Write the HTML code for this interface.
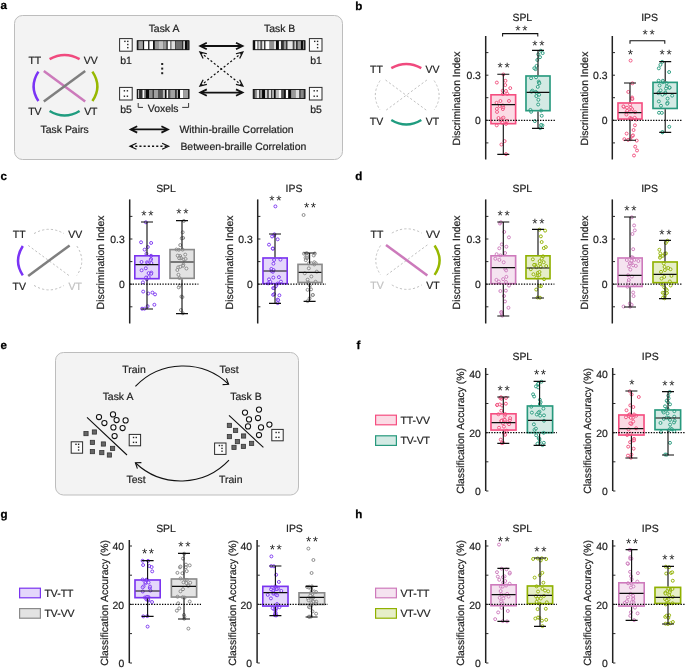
<!DOCTYPE html>
<html>
<head>
<meta charset="utf-8">
<title>Figure</title>
<style>html,body{margin:0;padding:0;background:#fff}svg{display:block}</style>
</head>
<body>
<svg width="685" height="668" viewBox="0 0 685 668" font-family="'Liberation Sans', Arial, sans-serif" text-rendering="geometricPrecision">
<rect width="685" height="668" fill="#fff"/>
<text x="0.50" y="9.00" font-size="11.6" text-anchor="start" font-weight="bold" fill="#000" stroke="#000" stroke-width="0.25">a</text>
<text x="355.30" y="9.60" font-size="11.6" text-anchor="start" font-weight="bold" fill="#000" stroke="#000" stroke-width="0.25">b</text>
<text x="0.50" y="180.00" font-size="11.6" text-anchor="start" font-weight="bold" fill="#000" stroke="#000" stroke-width="0.25">c</text>
<text x="355.30" y="180.00" font-size="11.6" text-anchor="start" font-weight="bold" fill="#000" stroke="#000" stroke-width="0.25">d</text>
<text x="0.50" y="349.00" font-size="11.6" text-anchor="start" font-weight="bold" fill="#000" stroke="#000" stroke-width="0.25">e</text>
<text x="356.60" y="349.00" font-size="11.6" text-anchor="start" font-weight="bold" fill="#000" stroke="#000" stroke-width="0.25">f</text>
<text x="0.50" y="518.00" font-size="11.6" text-anchor="start" font-weight="bold" fill="#000" stroke="#000" stroke-width="0.25">g</text>
<text x="355.30" y="518.00" font-size="11.6" text-anchor="start" font-weight="bold" fill="#000" stroke="#000" stroke-width="0.25">h</text>
<rect x="14.5" y="15.5" width="328" height="144" rx="8" ry="8" fill="#f3f3f3" stroke="#bdbdbd" stroke-width="1"/>
<path d="M43.80 71.00L85.20 101.60" stroke="#CC7ABB" stroke-width="2.5" fill="none" stroke-linecap="butt"/>
<path d="M85.20 71.00L43.80 101.60" stroke="#7F7F7F" stroke-width="2.5" fill="none" stroke-linecap="butt"/>
<path d="M49.60 59.20Q64.60 50.60 79.60 59.20" stroke="#F04A7E" stroke-width="2.5" fill="none" stroke-linecap="butt"/>
<path d="M49.60 111.00Q64.60 120.00 79.60 111.00" stroke="#1F9C7F" stroke-width="2.5" fill="none" stroke-linecap="butt"/>
<path d="M38.40 71.60Q28.80 86.60 38.40 101.00" stroke="#7A33F5" stroke-width="2.5" fill="none" stroke-linecap="butt"/>
<path d="M92.40 71.60Q102.40 86.60 92.40 101.00" stroke="#97B800" stroke-width="2.5" fill="none" stroke-linecap="butt"/>
<text x="34.80" y="63.84" font-size="10.45" text-anchor="middle" font-weight="normal" fill="#222" stroke="#222" stroke-width="0.2">TT</text>
<text x="90.80" y="63.84" font-size="10.45" text-anchor="middle" font-weight="normal" fill="#222" stroke="#222" stroke-width="0.2">VV</text>
<text x="34.80" y="115.44" font-size="10.45" text-anchor="middle" font-weight="normal" fill="#222" stroke="#222" stroke-width="0.2">TV</text>
<text x="90.80" y="115.44" font-size="10.45" text-anchor="middle" font-weight="normal" fill="#222" stroke="#222" stroke-width="0.2">VT</text>
<text x="64.60" y="132.94" font-size="10.45" text-anchor="middle" font-weight="normal" fill="#222" stroke="#222" stroke-width="0.2">Task Pairs</text>
<text x="164.00" y="32.34" font-size="10.45" text-anchor="middle" font-weight="normal" fill="#222" stroke="#222" stroke-width="0.2">Task A</text>
<text x="279.60" y="32.34" font-size="10.45" text-anchor="middle" font-weight="normal" fill="#222" stroke="#222" stroke-width="0.2">Task B</text>
<rect x="119.60" y="38.60" width="12.60" height="12.60" fill="#fbfbfb" stroke="#2a2a2a" stroke-width="1"/>
<rect x="124.19" y="40.67" width="1.4" height="1.4" fill="#222"/>
<rect x="127.09" y="40.67" width="1.4" height="1.4" fill="#222"/>
<rect x="127.09" y="43.82" width="1.4" height="1.4" fill="#222"/>
<rect x="127.09" y="46.97" width="1.4" height="1.4" fill="#222"/>
<rect x="119.60" y="87.40" width="12.60" height="12.60" fill="#fbfbfb" stroke="#2a2a2a" stroke-width="1"/>
<rect x="123.69" y="90.10" width="1.4" height="1.4" fill="#222"/>
<rect x="126.71" y="90.10" width="1.4" height="1.4" fill="#222"/>
<rect x="123.69" y="95.52" width="1.4" height="1.4" fill="#222"/>
<rect x="126.71" y="95.52" width="1.4" height="1.4" fill="#222"/>
<rect x="309.40" y="38.60" width="12.60" height="12.60" fill="#fbfbfb" stroke="#2a2a2a" stroke-width="1"/>
<rect x="313.99" y="40.67" width="1.4" height="1.4" fill="#222"/>
<rect x="316.89" y="40.67" width="1.4" height="1.4" fill="#222"/>
<rect x="316.89" y="43.82" width="1.4" height="1.4" fill="#222"/>
<rect x="316.89" y="46.97" width="1.4" height="1.4" fill="#222"/>
<rect x="309.40" y="87.40" width="12.60" height="12.60" fill="#fbfbfb" stroke="#2a2a2a" stroke-width="1"/>
<rect x="313.49" y="90.10" width="1.4" height="1.4" fill="#222"/>
<rect x="316.51" y="90.10" width="1.4" height="1.4" fill="#222"/>
<rect x="313.49" y="95.52" width="1.4" height="1.4" fill="#222"/>
<rect x="316.51" y="95.52" width="1.4" height="1.4" fill="#222"/>
<rect x="137.20" y="40.70" width="51.80" height="9.00" fill="#222"/>
<rect x="137.20" y="40.70" width="1.37" height="9.00" fill="#222222"/>
<rect x="138.42" y="40.70" width="4.64" height="9.00" fill="#a0a0a0"/>
<rect x="142.91" y="40.70" width="1.37" height="9.00" fill="#111111"/>
<rect x="144.13" y="40.70" width="4.23" height="9.00" fill="#ffffff"/>
<rect x="148.21" y="40.70" width="1.37" height="9.00" fill="#222222"/>
<rect x="149.44" y="40.70" width="3.82" height="9.00" fill="#ffffff"/>
<rect x="153.11" y="40.70" width="1.78" height="9.00" fill="#080808"/>
<rect x="154.74" y="40.70" width="3.82" height="9.00" fill="#999999"/>
<rect x="158.41" y="40.70" width="5.04" height="9.00" fill="#c0c0c0"/>
<rect x="163.30" y="40.70" width="3.41" height="9.00" fill="#999999"/>
<rect x="166.57" y="40.70" width="1.37" height="9.00" fill="#333333"/>
<rect x="167.79" y="40.70" width="2.60" height="9.00" fill="#fafafa"/>
<rect x="170.24" y="40.70" width="1.37" height="9.00" fill="#888888"/>
<rect x="171.46" y="40.70" width="3.82" height="9.00" fill="#dddddd"/>
<rect x="175.13" y="40.70" width="0.97" height="9.00" fill="#444444"/>
<rect x="175.95" y="40.70" width="6.27" height="9.00" fill="#6e6e6e"/>
<rect x="182.07" y="40.70" width="1.37" height="9.00" fill="#2a2a2a"/>
<rect x="183.29" y="40.70" width="1.78" height="9.00" fill="#dddddd"/>
<rect x="184.92" y="40.70" width="2.19" height="9.00" fill="#080808"/>
<rect x="186.96" y="40.70" width="2.19" height="9.00" fill="#444444"/>
<rect x="137.20" y="40.70" width="51.80" height="9.00" fill="none" stroke="#151515" stroke-width="0.9"/>
<rect x="137.20" y="89.50" width="51.80" height="9.00" fill="#222"/>
<rect x="137.20" y="89.50" width="0.97" height="9.00" fill="#222222"/>
<rect x="138.02" y="89.50" width="1.37" height="9.00" fill="#bbbbbb"/>
<rect x="139.24" y="89.50" width="3.41" height="9.00" fill="#303030"/>
<rect x="142.50" y="89.50" width="1.78" height="9.00" fill="#fafafa"/>
<rect x="144.13" y="89.50" width="1.78" height="9.00" fill="#999999"/>
<rect x="145.77" y="89.50" width="3.41" height="9.00" fill="#0a0a0a"/>
<rect x="149.03" y="89.50" width="3.82" height="9.00" fill="#909090"/>
<rect x="152.70" y="89.50" width="1.37" height="9.00" fill="#333333"/>
<rect x="153.92" y="89.50" width="4.23" height="9.00" fill="#a0a0a0"/>
<rect x="158.00" y="89.50" width="5.04" height="9.00" fill="#555555"/>
<rect x="162.90" y="89.50" width="2.19" height="9.00" fill="#bbbbbb"/>
<rect x="164.94" y="89.50" width="1.78" height="9.00" fill="#0a0a0a"/>
<rect x="166.57" y="89.50" width="1.78" height="9.00" fill="#fafafa"/>
<rect x="168.20" y="89.50" width="2.19" height="9.00" fill="#555555"/>
<rect x="170.24" y="89.50" width="5.04" height="9.00" fill="#a2a2a2"/>
<rect x="175.13" y="89.50" width="1.78" height="9.00" fill="#333333"/>
<rect x="176.76" y="89.50" width="1.37" height="9.00" fill="#aaaaaa"/>
<rect x="177.99" y="89.50" width="2.19" height="9.00" fill="#0a0a0a"/>
<rect x="180.03" y="89.50" width="3.41" height="9.00" fill="#ffffff"/>
<rect x="183.29" y="89.50" width="5.04" height="9.00" fill="#a0a0a0"/>
<rect x="188.18" y="89.50" width="0.97" height="9.00" fill="#333333"/>
<rect x="137.20" y="89.50" width="51.80" height="9.00" fill="none" stroke="#151515" stroke-width="0.9"/>
<rect x="253.20" y="40.70" width="51.80" height="9.00" fill="#222"/>
<rect x="253.20" y="40.70" width="2.19" height="9.00" fill="#0a0a0a"/>
<rect x="255.24" y="40.70" width="2.19" height="9.00" fill="#ffffff"/>
<rect x="257.28" y="40.70" width="1.78" height="9.00" fill="#999999"/>
<rect x="258.91" y="40.70" width="1.78" height="9.00" fill="#dddddd"/>
<rect x="260.54" y="40.70" width="1.78" height="9.00" fill="#555555"/>
<rect x="262.17" y="40.70" width="2.19" height="9.00" fill="#eeeeee"/>
<rect x="264.21" y="40.70" width="1.37" height="9.00" fill="#333333"/>
<rect x="265.44" y="40.70" width="4.23" height="9.00" fill="#ffffff"/>
<rect x="269.51" y="40.70" width="4.64" height="9.00" fill="#909090"/>
<rect x="274.00" y="40.70" width="2.19" height="9.00" fill="#dddddd"/>
<rect x="276.04" y="40.70" width="3.01" height="9.00" fill="#080808"/>
<rect x="278.90" y="40.70" width="2.19" height="9.00" fill="#fafafa"/>
<rect x="280.94" y="40.70" width="3.01" height="9.00" fill="#333333"/>
<rect x="283.79" y="40.70" width="2.60" height="9.00" fill="#999999"/>
<rect x="286.24" y="40.70" width="1.37" height="9.00" fill="#333333"/>
<rect x="287.46" y="40.70" width="5.45" height="9.00" fill="#e6e6e6"/>
<rect x="292.76" y="40.70" width="1.78" height="9.00" fill="#444444"/>
<rect x="294.40" y="40.70" width="1.78" height="9.00" fill="#cccccc"/>
<rect x="296.03" y="40.70" width="1.78" height="9.00" fill="#333333"/>
<rect x="297.66" y="40.70" width="3.41" height="9.00" fill="#999999"/>
<rect x="300.92" y="40.70" width="2.19" height="9.00" fill="#0a0a0a"/>
<rect x="302.96" y="40.70" width="1.37" height="9.00" fill="#888888"/>
<rect x="304.18" y="40.70" width="0.97" height="9.00" fill="#222222"/>
<rect x="253.20" y="40.70" width="51.80" height="9.00" fill="none" stroke="#151515" stroke-width="0.9"/>
<rect x="253.20" y="89.50" width="51.80" height="9.00" fill="#222"/>
<rect x="253.20" y="89.50" width="1.78" height="9.00" fill="#333333"/>
<rect x="254.83" y="89.50" width="2.19" height="9.00" fill="#888888"/>
<rect x="256.87" y="89.50" width="2.60" height="9.00" fill="#e8e8e8"/>
<rect x="259.32" y="89.50" width="0.97" height="9.00" fill="#333333"/>
<rect x="260.13" y="89.50" width="2.19" height="9.00" fill="#999999"/>
<rect x="262.17" y="89.50" width="3.01" height="9.00" fill="#080808"/>
<rect x="265.03" y="89.50" width="2.60" height="9.00" fill="#d0d0d0"/>
<rect x="267.48" y="89.50" width="1.37" height="9.00" fill="#333333"/>
<rect x="268.70" y="89.50" width="2.60" height="9.00" fill="#dddddd"/>
<rect x="271.15" y="89.50" width="0.97" height="9.00" fill="#444444"/>
<rect x="271.96" y="89.50" width="2.19" height="9.00" fill="#aaaaaa"/>
<rect x="274.00" y="89.50" width="1.78" height="9.00" fill="#0a0a0a"/>
<rect x="275.63" y="89.50" width="3.01" height="9.00" fill="#bbbbbb"/>
<rect x="278.49" y="89.50" width="3.01" height="9.00" fill="#fafafa"/>
<rect x="281.34" y="89.50" width="3.01" height="9.00" fill="#555555"/>
<rect x="284.20" y="89.50" width="1.78" height="9.00" fill="#0a0a0a"/>
<rect x="285.83" y="89.50" width="2.60" height="9.00" fill="#ffffff"/>
<rect x="288.28" y="89.50" width="3.01" height="9.00" fill="#0a0a0a"/>
<rect x="291.13" y="89.50" width="4.64" height="9.00" fill="#999999"/>
<rect x="295.62" y="89.50" width="3.82" height="9.00" fill="#dddddd"/>
<rect x="299.29" y="89.50" width="1.78" height="9.00" fill="#555555"/>
<rect x="300.92" y="89.50" width="3.01" height="9.00" fill="#888888"/>
<rect x="303.78" y="89.50" width="1.37" height="9.00" fill="#333333"/>
<rect x="253.20" y="89.50" width="51.80" height="9.00" fill="none" stroke="#151515" stroke-width="0.9"/>
<text x="126.00" y="64.34" font-size="10.45" text-anchor="middle" font-weight="normal" fill="#222" stroke="#222" stroke-width="0.2">b1</text>
<text x="126.00" y="112.94" font-size="10.45" text-anchor="middle" font-weight="normal" fill="#222" stroke="#222" stroke-width="0.2">b5</text>
<text x="316.00" y="64.34" font-size="10.45" text-anchor="middle" font-weight="normal" fill="#222" stroke="#222" stroke-width="0.2">b1</text>
<text x="316.00" y="112.94" font-size="10.45" text-anchor="middle" font-weight="normal" fill="#222" stroke="#222" stroke-width="0.2">b5</text>
<rect x="161.2" y="63.00" width="2" height="2" fill="#222"/>
<rect x="161.2" y="67.60" width="2" height="2" fill="#222"/>
<rect x="161.2" y="72.20" width="2" height="2" fill="#222"/>
<text x="163.20" y="112.04" font-size="10.45" text-anchor="middle" font-weight="normal" fill="#222" stroke="#222" stroke-width="0.2">Voxels</text>
<path d="M138.2 103V107.4H143M188.6 103V107.4H182.2" stroke="#222" stroke-width="0.9" fill="none"/>
<path d="M201.30 46.00L241.50 46.00" stroke="#111" stroke-width="1.8" fill="none"/>
<path d="M236.00 49.20L242.50 46.00L236.00 42.80M206.80 49.20L200.30 46.00L206.80 42.80" stroke="#111" stroke-width="1.8" fill="none" stroke-linejoin="miter"/>
<path d="M201.30 92.60L241.50 92.60" stroke="#111" stroke-width="1.8" fill="none"/>
<path d="M236.00 95.80L242.50 92.60L236.00 89.40M206.80 95.80L200.30 92.60L206.80 89.40" stroke="#111" stroke-width="1.8" fill="none" stroke-linejoin="miter"/>
<path d="M200.70 52.67L242.10 85.53" stroke="#111" stroke-width="1.2" fill="none" stroke-dasharray="2.1 2.1"/>
<path d="M235.93 84.46L242.89 86.15L239.66 79.76M203.14 58.44L199.91 52.05L206.87 53.74" stroke="#111" stroke-width="1.25" fill="none" stroke-linejoin="miter"/>
<path d="M200.70 85.53L242.10 52.67" stroke="#111" stroke-width="1.2" fill="none" stroke-dasharray="2.1 2.1"/>
<path d="M239.66 58.44L242.89 52.05L235.93 53.74M206.87 84.46L199.91 86.15L203.14 79.76" stroke="#111" stroke-width="1.25" fill="none" stroke-linejoin="miter"/>
<path d="M131.70 129.40L166.90 129.40" stroke="#111" stroke-width="1.8" fill="none"/>
<path d="M161.40 132.60L167.90 129.40L161.40 126.20M137.20 132.60L130.70 129.40L137.20 126.20" stroke="#111" stroke-width="1.8" fill="none" stroke-linejoin="miter"/>
<path d="M131.00 146.20L167.60 146.20" stroke="#111" stroke-width="1.4" fill="none" stroke-dasharray="2.1 2.1"/>
<path d="M162.10 149.20L168.60 146.20L162.10 143.20M136.50 149.20L130.00 146.20L136.50 143.20" stroke="#111" stroke-width="1.25" fill="none" stroke-linejoin="miter"/>
<text x="179.40" y="133.34" font-size="10.45" text-anchor="start" font-weight="normal" fill="#222" stroke="#222" stroke-width="0.2">Within-braille Correlation</text>
<text x="180.40" y="150.04" font-size="10.45" text-anchor="start" font-weight="normal" fill="#222" stroke="#222" stroke-width="0.2">Between-braille Correlation</text>
<path d="M380.10 80.60Q370.50 95.60 380.10 110.00" stroke="#bdbdbd" stroke-width="0.95" stroke-dasharray="2.2 2.2" fill="none"/>
<path d="M434.10 80.60Q444.10 95.60 434.10 110.00" stroke="#bdbdbd" stroke-width="0.95" stroke-dasharray="2.2 2.2" fill="none"/>
<path d="M385.50 80.00L426.90 110.60" stroke="#bdbdbd" stroke-width="0.95" stroke-dasharray="2.2 2.2" fill="none"/>
<path d="M426.90 80.00L385.50 110.60" stroke="#bdbdbd" stroke-width="0.95" stroke-dasharray="2.2 2.2" fill="none"/>
<path d="M391.30 68.20Q406.30 59.60 421.30 68.20" stroke="#F04A7E" stroke-width="2.5" fill="none" stroke-linecap="butt"/>
<path d="M391.30 120.00Q406.30 129.00 421.30 120.00" stroke="#1F9C7F" stroke-width="2.5" fill="none" stroke-linecap="butt"/>
<text x="376.50" y="72.84" font-size="10.45" text-anchor="middle" font-weight="normal" fill="#222" stroke="#222" stroke-width="0.2">TT</text>
<text x="432.50" y="72.84" font-size="10.45" text-anchor="middle" font-weight="normal" fill="#222" stroke="#222" stroke-width="0.2">VV</text>
<text x="376.50" y="125.34" font-size="10.45" text-anchor="middle" font-weight="normal" fill="#222" stroke="#222" stroke-width="0.2">TV</text>
<text x="432.50" y="125.34" font-size="10.45" text-anchor="middle" font-weight="normal" fill="#222" stroke="#222" stroke-width="0.2">VT</text>
<text x="522.30" y="21.04" font-size="10.45" text-anchor="middle" font-weight="normal" fill="#222" stroke="#222" stroke-width="0.2">SPL</text>
<text transform="translate(460.10,98.60) rotate(-90)" font-size="10.45" text-anchor="middle" fill="#222" stroke="#222" stroke-width="0.2">Discrimination Index</text>
<text x="480.90" y="78.94" font-size="10.45" text-anchor="end" font-weight="normal" fill="#222" stroke="#222" stroke-width="0.2">0.3</text>
<text x="480.90" y="124.04" font-size="10.45" text-anchor="end" font-weight="normal" fill="#222" stroke="#222" stroke-width="0.2">0</text>
<rect x="490.20" y="94.00" width="26.20" height="30.45" fill="#FBDBE5"/>
<circle cx="505.96" cy="90.98" r="1.48" fill="#fff" fill-opacity="0.5" stroke="#F0527F" stroke-width="0.95"/>
<circle cx="502.86" cy="109.09" r="1.48" fill="#fff" fill-opacity="0.5" stroke="#F0527F" stroke-width="0.95"/>
<circle cx="498.48" cy="118.02" r="1.48" fill="#fff" fill-opacity="0.5" stroke="#F0527F" stroke-width="0.95"/>
<circle cx="502.71" cy="90.75" r="1.48" fill="#fff" fill-opacity="0.5" stroke="#F0527F" stroke-width="0.95"/>
<circle cx="502.82" cy="94.06" r="1.48" fill="#fff" fill-opacity="0.5" stroke="#F0527F" stroke-width="0.95"/>
<circle cx="508.99" cy="100.97" r="1.48" fill="#fff" fill-opacity="0.5" stroke="#F0527F" stroke-width="0.95"/>
<circle cx="496.72" cy="125.37" r="1.48" fill="#fff" fill-opacity="0.5" stroke="#F0527F" stroke-width="0.95"/>
<circle cx="502.22" cy="122.60" r="1.48" fill="#fff" fill-opacity="0.5" stroke="#F0527F" stroke-width="0.95"/>
<circle cx="496.85" cy="82.56" r="1.48" fill="#fff" fill-opacity="0.5" stroke="#F0527F" stroke-width="0.95"/>
<circle cx="503.26" cy="107.33" r="1.48" fill="#fff" fill-opacity="0.5" stroke="#F0527F" stroke-width="0.95"/>
<circle cx="500.42" cy="101.03" r="1.48" fill="#fff" fill-opacity="0.5" stroke="#F0527F" stroke-width="0.95"/>
<circle cx="496.56" cy="102.82" r="1.48" fill="#fff" fill-opacity="0.5" stroke="#F0527F" stroke-width="0.95"/>
<circle cx="504.61" cy="141.12" r="1.48" fill="#fff" fill-opacity="0.5" stroke="#F0527F" stroke-width="0.95"/>
<circle cx="507.30" cy="93.85" r="1.48" fill="#fff" fill-opacity="0.5" stroke="#F0527F" stroke-width="0.95"/>
<circle cx="505.46" cy="80.79" r="1.48" fill="#fff" fill-opacity="0.5" stroke="#F0527F" stroke-width="0.95"/>
<circle cx="502.61" cy="122.51" r="1.48" fill="#fff" fill-opacity="0.5" stroke="#F0527F" stroke-width="0.95"/>
<circle cx="501.42" cy="144.53" r="1.48" fill="#fff" fill-opacity="0.5" stroke="#F0527F" stroke-width="0.95"/>
<circle cx="507.09" cy="120.87" r="1.48" fill="#fff" fill-opacity="0.5" stroke="#F0527F" stroke-width="0.95"/>
<circle cx="497.03" cy="111.94" r="1.48" fill="#fff" fill-opacity="0.5" stroke="#F0527F" stroke-width="0.95"/>
<circle cx="502.54" cy="118.28" r="1.48" fill="#fff" fill-opacity="0.5" stroke="#F0527F" stroke-width="0.95"/>
<circle cx="505.25" cy="85.07" r="1.48" fill="#fff" fill-opacity="0.5" stroke="#F0527F" stroke-width="0.95"/>
<circle cx="502.76" cy="105.41" r="1.48" fill="#fff" fill-opacity="0.5" stroke="#F0527F" stroke-width="0.95"/>
<circle cx="503.48" cy="117.70" r="1.48" fill="#fff" fill-opacity="0.5" stroke="#F0527F" stroke-width="0.95"/>
<circle cx="496.87" cy="108.91" r="1.48" fill="#fff" fill-opacity="0.5" stroke="#F0527F" stroke-width="0.95"/>
<circle cx="510.24" cy="88.13" r="1.48" fill="#fff" fill-opacity="0.5" stroke="#F0527F" stroke-width="0.95"/>
<circle cx="499.76" cy="105.99" r="1.48" fill="#fff" fill-opacity="0.5" stroke="#F0527F" stroke-width="0.95"/>
<circle cx="506.04" cy="123.90" r="1.48" fill="#fff" fill-opacity="0.5" stroke="#F0527F" stroke-width="0.95"/>
<circle cx="500.59" cy="120.20" r="1.48" fill="#fff" fill-opacity="0.5" stroke="#F0527F" stroke-width="0.95"/>
<circle cx="503.38" cy="74.50" r="1.48" fill="#fff" fill-opacity="0.5" stroke="#F0527F" stroke-width="0.95"/>
<circle cx="506.01" cy="154.10" r="1.48" fill="#fff" fill-opacity="0.5" stroke="#F0527F" stroke-width="0.95"/>
<rect x="491.00" y="94.80" width="24.60" height="28.85" fill="none" stroke="#F54E80" stroke-width="1.6"/>
<path d="M503.30 74.20V94.00M503.30 124.45V154.40M497.30 74.20h12M497.30 154.40h12M491.60 104.60H515.00" stroke="#0d0d0d" stroke-width="1.1" fill="none"/>
<text x="504.50" y="72.00" font-size="13.5" text-anchor="middle" letter-spacing="1.65" fill="#1a1a1a">**</text>
<rect x="525.20" y="75.20" width="25.60" height="36.25" fill="#D3EAE4"/>
<circle cx="535.74" cy="91.84" r="1.48" fill="#fff" fill-opacity="0.5" stroke="#2A9C80" stroke-width="0.95"/>
<circle cx="530.41" cy="109.90" r="1.48" fill="#fff" fill-opacity="0.5" stroke="#2A9C80" stroke-width="0.95"/>
<circle cx="542.44" cy="125.36" r="1.48" fill="#fff" fill-opacity="0.5" stroke="#2A9C80" stroke-width="0.95"/>
<circle cx="538.16" cy="104.53" r="1.48" fill="#fff" fill-opacity="0.5" stroke="#2A9C80" stroke-width="0.95"/>
<circle cx="532.35" cy="90.65" r="1.48" fill="#fff" fill-opacity="0.5" stroke="#2A9C80" stroke-width="0.95"/>
<circle cx="534.87" cy="121.11" r="1.48" fill="#fff" fill-opacity="0.5" stroke="#2A9C80" stroke-width="0.95"/>
<circle cx="536.68" cy="92.78" r="1.48" fill="#fff" fill-opacity="0.5" stroke="#2A9C80" stroke-width="0.95"/>
<circle cx="539.12" cy="94.72" r="1.48" fill="#fff" fill-opacity="0.5" stroke="#2A9C80" stroke-width="0.95"/>
<circle cx="531.51" cy="91.81" r="1.48" fill="#fff" fill-opacity="0.5" stroke="#2A9C80" stroke-width="0.95"/>
<circle cx="538.75" cy="81.62" r="1.48" fill="#fff" fill-opacity="0.5" stroke="#2A9C80" stroke-width="0.95"/>
<circle cx="541.09" cy="124.98" r="1.48" fill="#fff" fill-opacity="0.5" stroke="#2A9C80" stroke-width="0.95"/>
<circle cx="541.72" cy="115.78" r="1.48" fill="#fff" fill-opacity="0.5" stroke="#2A9C80" stroke-width="0.95"/>
<circle cx="531.05" cy="78.22" r="1.48" fill="#fff" fill-opacity="0.5" stroke="#2A9C80" stroke-width="0.95"/>
<circle cx="535.51" cy="69.14" r="1.48" fill="#fff" fill-opacity="0.5" stroke="#2A9C80" stroke-width="0.95"/>
<circle cx="536.55" cy="65.90" r="1.48" fill="#fff" fill-opacity="0.5" stroke="#2A9C80" stroke-width="0.95"/>
<circle cx="538.24" cy="54.36" r="1.48" fill="#fff" fill-opacity="0.5" stroke="#2A9C80" stroke-width="0.95"/>
<circle cx="540.04" cy="57.17" r="1.48" fill="#fff" fill-opacity="0.5" stroke="#2A9C80" stroke-width="0.95"/>
<circle cx="537.77" cy="86.87" r="1.48" fill="#fff" fill-opacity="0.5" stroke="#2A9C80" stroke-width="0.95"/>
<circle cx="537.30" cy="59.99" r="1.48" fill="#fff" fill-opacity="0.5" stroke="#2A9C80" stroke-width="0.95"/>
<circle cx="542.70" cy="53.10" r="1.48" fill="#fff" fill-opacity="0.5" stroke="#2A9C80" stroke-width="0.95"/>
<circle cx="538.95" cy="82.78" r="1.48" fill="#fff" fill-opacity="0.5" stroke="#2A9C80" stroke-width="0.95"/>
<circle cx="531.11" cy="111.80" r="1.48" fill="#fff" fill-opacity="0.5" stroke="#2A9C80" stroke-width="0.95"/>
<circle cx="534.31" cy="68.23" r="1.48" fill="#fff" fill-opacity="0.5" stroke="#2A9C80" stroke-width="0.95"/>
<circle cx="538.39" cy="99.78" r="1.48" fill="#fff" fill-opacity="0.5" stroke="#2A9C80" stroke-width="0.95"/>
<circle cx="541.09" cy="110.57" r="1.48" fill="#fff" fill-opacity="0.5" stroke="#2A9C80" stroke-width="0.95"/>
<circle cx="539.37" cy="83.29" r="1.48" fill="#fff" fill-opacity="0.5" stroke="#2A9C80" stroke-width="0.95"/>
<circle cx="536.31" cy="96.07" r="1.48" fill="#fff" fill-opacity="0.5" stroke="#2A9C80" stroke-width="0.95"/>
<circle cx="536.07" cy="77.33" r="1.48" fill="#fff" fill-opacity="0.5" stroke="#2A9C80" stroke-width="0.95"/>
<circle cx="540.81" cy="50.70" r="1.48" fill="#fff" fill-opacity="0.5" stroke="#2A9C80" stroke-width="0.95"/>
<circle cx="540.25" cy="128.10" r="1.48" fill="#fff" fill-opacity="0.5" stroke="#2A9C80" stroke-width="0.95"/>
<rect x="526.00" y="76.00" width="24.00" height="34.65" fill="none" stroke="#27997D" stroke-width="1.6"/>
<path d="M538.00 50.40V75.20M538.00 111.45V128.40M532.00 50.40h12M532.00 128.40h12M526.60 92.40H549.40" stroke="#0d0d0d" stroke-width="1.1" fill="none"/>
<text x="539.20" y="49.60" font-size="13.5" text-anchor="middle" letter-spacing="1.65" fill="#1a1a1a">**</text>
<line x1="486.00" y1="120.30" x2="555.00" y2="120.30" stroke="#000" stroke-width="1.3" stroke-dasharray="1.35 1.35"/>
<path d="M486.00 52.60h2.4M486.00 75.20h2.4M486.00 97.70h2.4M486.00 120.30h2.4M486.00 142.90h2.4" stroke="#1f1f1f" stroke-width="0.95" fill="none"/>
<path d="M485.70 36.00V159.50" stroke="#222" stroke-width="1.5" fill="none"/>
<path d="M502.60 36.60V33.60H537.80V36.60" stroke="#111" stroke-width="1.05" fill="none"/>
<text x="522.20" y="35.00" font-size="13.5" text-anchor="middle" letter-spacing="1.65" fill="#1a1a1a">**</text>
<text x="649.60" y="21.04" font-size="10.45" text-anchor="middle" font-weight="normal" fill="#222" stroke="#222" stroke-width="0.2">IPS</text>
<text transform="translate(588.10,98.60) rotate(-90)" font-size="10.45" text-anchor="middle" fill="#222" stroke="#222" stroke-width="0.2">Discrimination Index</text>
<text x="607.60" y="78.94" font-size="10.45" text-anchor="end" font-weight="normal" fill="#222" stroke="#222" stroke-width="0.2">0.3</text>
<text x="607.60" y="124.04" font-size="10.45" text-anchor="end" font-weight="normal" fill="#222" stroke="#222" stroke-width="0.2">0</text>
<rect x="617.20" y="102.20" width="25.60" height="17.65" fill="#FBDBE5"/>
<circle cx="624.36" cy="139.14" r="1.48" fill="#fff" fill-opacity="0.5" stroke="#F0527F" stroke-width="0.95"/>
<circle cx="632.32" cy="99.04" r="1.48" fill="#fff" fill-opacity="0.5" stroke="#F0527F" stroke-width="0.95"/>
<circle cx="630.95" cy="107.64" r="1.48" fill="#fff" fill-opacity="0.5" stroke="#F0527F" stroke-width="0.95"/>
<circle cx="626.28" cy="112.46" r="1.48" fill="#fff" fill-opacity="0.5" stroke="#F0527F" stroke-width="0.95"/>
<circle cx="632.17" cy="109.15" r="1.48" fill="#fff" fill-opacity="0.5" stroke="#F0527F" stroke-width="0.95"/>
<circle cx="630.38" cy="139.17" r="1.48" fill="#fff" fill-opacity="0.5" stroke="#F0527F" stroke-width="0.95"/>
<circle cx="623.78" cy="106.93" r="1.48" fill="#fff" fill-opacity="0.5" stroke="#F0527F" stroke-width="0.95"/>
<circle cx="628.28" cy="91.93" r="1.48" fill="#fff" fill-opacity="0.5" stroke="#F0527F" stroke-width="0.95"/>
<circle cx="630.22" cy="117.94" r="1.48" fill="#fff" fill-opacity="0.5" stroke="#F0527F" stroke-width="0.95"/>
<circle cx="623.36" cy="106.37" r="1.48" fill="#fff" fill-opacity="0.5" stroke="#F0527F" stroke-width="0.95"/>
<circle cx="630.09" cy="104.61" r="1.48" fill="#fff" fill-opacity="0.5" stroke="#F0527F" stroke-width="0.95"/>
<circle cx="626.63" cy="133.58" r="1.48" fill="#fff" fill-opacity="0.5" stroke="#F0527F" stroke-width="0.95"/>
<circle cx="632.30" cy="136.06" r="1.48" fill="#fff" fill-opacity="0.5" stroke="#F0527F" stroke-width="0.95"/>
<circle cx="632.99" cy="135.37" r="1.48" fill="#fff" fill-opacity="0.5" stroke="#F0527F" stroke-width="0.95"/>
<circle cx="636.15" cy="119.51" r="1.48" fill="#fff" fill-opacity="0.5" stroke="#F0527F" stroke-width="0.95"/>
<circle cx="632.08" cy="97.48" r="1.48" fill="#fff" fill-opacity="0.5" stroke="#F0527F" stroke-width="0.95"/>
<circle cx="629.91" cy="111.56" r="1.48" fill="#fff" fill-opacity="0.5" stroke="#F0527F" stroke-width="0.95"/>
<circle cx="633.57" cy="130.04" r="1.48" fill="#fff" fill-opacity="0.5" stroke="#F0527F" stroke-width="0.95"/>
<circle cx="634.69" cy="117.78" r="1.48" fill="#fff" fill-opacity="0.5" stroke="#F0527F" stroke-width="0.95"/>
<circle cx="635.11" cy="112.22" r="1.48" fill="#fff" fill-opacity="0.5" stroke="#F0527F" stroke-width="0.95"/>
<circle cx="627.16" cy="110.79" r="1.48" fill="#fff" fill-opacity="0.5" stroke="#F0527F" stroke-width="0.95"/>
<circle cx="626.40" cy="114.55" r="1.48" fill="#fff" fill-opacity="0.5" stroke="#F0527F" stroke-width="0.95"/>
<circle cx="634.92" cy="125.31" r="1.48" fill="#fff" fill-opacity="0.5" stroke="#F0527F" stroke-width="0.95"/>
<circle cx="631.98" cy="119.10" r="1.48" fill="#fff" fill-opacity="0.5" stroke="#F0527F" stroke-width="0.95"/>
<circle cx="631.40" cy="111.34" r="1.48" fill="#fff" fill-opacity="0.5" stroke="#F0527F" stroke-width="0.95"/>
<circle cx="626.98" cy="107.70" r="1.48" fill="#fff" fill-opacity="0.5" stroke="#F0527F" stroke-width="0.95"/>
<circle cx="631.12" cy="118.69" r="1.48" fill="#fff" fill-opacity="0.5" stroke="#F0527F" stroke-width="0.95"/>
<circle cx="632.21" cy="98.75" r="1.48" fill="#fff" fill-opacity="0.5" stroke="#F0527F" stroke-width="0.95"/>
<circle cx="632.45" cy="83.30" r="1.48" fill="#fff" fill-opacity="0.5" stroke="#F0527F" stroke-width="0.95"/>
<circle cx="628.15" cy="139.90" r="1.48" fill="#fff" fill-opacity="0.5" stroke="#F0527F" stroke-width="0.95"/>
<circle cx="630.60" cy="60.60" r="1.48" fill="#fff" fill-opacity="0.5" stroke="#F0527F" stroke-width="0.95"/>
<circle cx="636.70" cy="140.60" r="1.48" fill="#fff" fill-opacity="0.5" stroke="#F0527F" stroke-width="0.95"/>
<circle cx="635.20" cy="146.70" r="1.48" fill="#fff" fill-opacity="0.5" stroke="#F0527F" stroke-width="0.95"/>
<circle cx="637.00" cy="150.50" r="1.48" fill="#fff" fill-opacity="0.5" stroke="#F0527F" stroke-width="0.95"/>
<circle cx="634.00" cy="155.50" r="1.48" fill="#fff" fill-opacity="0.5" stroke="#F0527F" stroke-width="0.95"/>
<rect x="618.00" y="103.00" width="24.00" height="16.05" fill="none" stroke="#F54E80" stroke-width="1.6"/>
<path d="M630.00 83.00V102.20M630.00 119.85V140.20M624.00 83.00h12M624.00 140.20h12M618.60 112.60H641.40" stroke="#0d0d0d" stroke-width="1.1" fill="none"/>
<text x="631.20" y="58.60" font-size="13.5" text-anchor="middle" letter-spacing="1.65" fill="#1a1a1a">*</text>
<rect x="652.20" y="81.60" width="25.80" height="27.65" fill="#D3EAE4"/>
<circle cx="666.62" cy="83.22" r="1.48" fill="#fff" fill-opacity="0.5" stroke="#2A9C80" stroke-width="0.95"/>
<circle cx="669.46" cy="87.87" r="1.48" fill="#fff" fill-opacity="0.5" stroke="#2A9C80" stroke-width="0.95"/>
<circle cx="669.11" cy="72.05" r="1.48" fill="#fff" fill-opacity="0.5" stroke="#2A9C80" stroke-width="0.95"/>
<circle cx="669.55" cy="87.42" r="1.48" fill="#fff" fill-opacity="0.5" stroke="#2A9C80" stroke-width="0.95"/>
<circle cx="658.85" cy="101.42" r="1.48" fill="#fff" fill-opacity="0.5" stroke="#2A9C80" stroke-width="0.95"/>
<circle cx="666.82" cy="86.35" r="1.48" fill="#fff" fill-opacity="0.5" stroke="#2A9C80" stroke-width="0.95"/>
<circle cx="658.61" cy="80.69" r="1.48" fill="#fff" fill-opacity="0.5" stroke="#2A9C80" stroke-width="0.95"/>
<circle cx="662.78" cy="82.18" r="1.48" fill="#fff" fill-opacity="0.5" stroke="#2A9C80" stroke-width="0.95"/>
<circle cx="661.85" cy="112.89" r="1.48" fill="#fff" fill-opacity="0.5" stroke="#2A9C80" stroke-width="0.95"/>
<circle cx="659.20" cy="92.26" r="1.48" fill="#fff" fill-opacity="0.5" stroke="#2A9C80" stroke-width="0.95"/>
<circle cx="658.99" cy="112.76" r="1.48" fill="#fff" fill-opacity="0.5" stroke="#2A9C80" stroke-width="0.95"/>
<circle cx="667.60" cy="98.61" r="1.48" fill="#fff" fill-opacity="0.5" stroke="#2A9C80" stroke-width="0.95"/>
<circle cx="658.81" cy="68.34" r="1.48" fill="#fff" fill-opacity="0.5" stroke="#2A9C80" stroke-width="0.95"/>
<circle cx="667.57" cy="102.78" r="1.48" fill="#fff" fill-opacity="0.5" stroke="#2A9C80" stroke-width="0.95"/>
<circle cx="669.24" cy="126.74" r="1.48" fill="#fff" fill-opacity="0.5" stroke="#2A9C80" stroke-width="0.95"/>
<circle cx="662.41" cy="94.67" r="1.48" fill="#fff" fill-opacity="0.5" stroke="#2A9C80" stroke-width="0.95"/>
<circle cx="660.54" cy="90.35" r="1.48" fill="#fff" fill-opacity="0.5" stroke="#2A9C80" stroke-width="0.95"/>
<circle cx="660.99" cy="105.79" r="1.48" fill="#fff" fill-opacity="0.5" stroke="#2A9C80" stroke-width="0.95"/>
<circle cx="665.33" cy="92.47" r="1.48" fill="#fff" fill-opacity="0.5" stroke="#2A9C80" stroke-width="0.95"/>
<circle cx="662.82" cy="80.79" r="1.48" fill="#fff" fill-opacity="0.5" stroke="#2A9C80" stroke-width="0.95"/>
<circle cx="658.31" cy="93.21" r="1.48" fill="#fff" fill-opacity="0.5" stroke="#2A9C80" stroke-width="0.95"/>
<circle cx="659.56" cy="85.49" r="1.48" fill="#fff" fill-opacity="0.5" stroke="#2A9C80" stroke-width="0.95"/>
<circle cx="660.42" cy="64.82" r="1.48" fill="#fff" fill-opacity="0.5" stroke="#2A9C80" stroke-width="0.95"/>
<circle cx="672.15" cy="95.65" r="1.48" fill="#fff" fill-opacity="0.5" stroke="#2A9C80" stroke-width="0.95"/>
<circle cx="662.50" cy="132.27" r="1.48" fill="#fff" fill-opacity="0.5" stroke="#2A9C80" stroke-width="0.95"/>
<circle cx="666.01" cy="88.53" r="1.48" fill="#fff" fill-opacity="0.5" stroke="#2A9C80" stroke-width="0.95"/>
<circle cx="667.22" cy="103.73" r="1.48" fill="#fff" fill-opacity="0.5" stroke="#2A9C80" stroke-width="0.95"/>
<circle cx="665.43" cy="93.30" r="1.48" fill="#fff" fill-opacity="0.5" stroke="#2A9C80" stroke-width="0.95"/>
<circle cx="662.23" cy="61.90" r="1.48" fill="#fff" fill-opacity="0.5" stroke="#2A9C80" stroke-width="0.95"/>
<circle cx="662.41" cy="132.10" r="1.48" fill="#fff" fill-opacity="0.5" stroke="#2A9C80" stroke-width="0.95"/>
<rect x="653.00" y="82.40" width="24.20" height="26.05" fill="none" stroke="#27997D" stroke-width="1.6"/>
<path d="M665.20 61.60V81.60M665.20 109.25V132.40M659.20 61.60h12M659.20 132.40h12M653.60 93.40H676.60" stroke="#0d0d0d" stroke-width="1.1" fill="none"/>
<text x="666.40" y="59.20" font-size="13.5" text-anchor="middle" letter-spacing="1.65" fill="#1a1a1a">**</text>
<line x1="612.60" y1="120.30" x2="681.60" y2="120.30" stroke="#000" stroke-width="1.3" stroke-dasharray="1.35 1.35"/>
<path d="M612.60 52.60h2.4M612.60 75.20h2.4M612.60 97.70h2.4M612.60 120.30h2.4M612.60 142.90h2.4" stroke="#1f1f1f" stroke-width="0.95" fill="none"/>
<path d="M612.30 36.00V159.50" stroke="#222" stroke-width="1.5" fill="none"/>
<path d="M630.00 43.80V40.80H664.80V43.80" stroke="#111" stroke-width="1.05" fill="none"/>
<text x="649.40" y="39.20" font-size="13.5" text-anchor="middle" letter-spacing="1.65" fill="#1a1a1a">**</text>
<path d="M34.00 233.60Q49.00 225.00 64.00 233.60" stroke="#bdbdbd" stroke-width="0.95" stroke-dasharray="2.2 2.2" fill="none"/>
<path d="M34.00 285.40Q49.00 294.40 64.00 285.40" stroke="#bdbdbd" stroke-width="0.95" stroke-dasharray="2.2 2.2" fill="none"/>
<path d="M76.80 246.00Q86.80 261.00 76.80 275.40" stroke="#bdbdbd" stroke-width="0.95" stroke-dasharray="2.2 2.2" fill="none"/>
<path d="M28.20 245.40L69.60 276.00" stroke="#bdbdbd" stroke-width="0.95" stroke-dasharray="2.2 2.2" fill="none"/>
<path d="M69.60 245.40L28.20 276.00" stroke="#7F7F7F" stroke-width="2.5" fill="none" stroke-linecap="butt"/>
<path d="M22.80 246.00Q13.20 261.00 22.80 275.40" stroke="#7A33F5" stroke-width="2.5" fill="none" stroke-linecap="butt"/>
<text x="19.20" y="238.24" font-size="10.45" text-anchor="middle" font-weight="normal" fill="#222" stroke="#222" stroke-width="0.2">TT</text>
<text x="75.20" y="238.24" font-size="10.45" text-anchor="middle" font-weight="normal" fill="#222" stroke="#222" stroke-width="0.2">VV</text>
<text x="19.20" y="289.84" font-size="10.45" text-anchor="middle" font-weight="normal" fill="#222" stroke="#222" stroke-width="0.2">TV</text>
<text x="75.20" y="289.84" font-size="10.45" text-anchor="middle" font-weight="normal" fill="#c2c2c2" stroke="#c2c2c2" stroke-width="0.2">VT</text>
<text x="166.00" y="191.94" font-size="10.45" text-anchor="middle" font-weight="normal" fill="#222" stroke="#222" stroke-width="0.2">SPL</text>
<text transform="translate(104.10,262.40) rotate(-90)" font-size="10.45" text-anchor="middle" fill="#222" stroke="#222" stroke-width="0.2">Discrimination Index</text>
<text x="124.80" y="243.34" font-size="10.45" text-anchor="end" font-weight="normal" fill="#222" stroke="#222" stroke-width="0.2">0.3</text>
<text x="124.80" y="288.14" font-size="10.45" text-anchor="end" font-weight="normal" fill="#222" stroke="#222" stroke-width="0.2">0</text>
<rect x="134.00" y="255.00" width="25.80" height="24.45" fill="#E4D7FB"/>
<circle cx="145.81" cy="268.31" r="1.48" fill="#fff" fill-opacity="0.5" stroke="#7C38F0" stroke-width="0.95"/>
<circle cx="141.58" cy="270.30" r="1.48" fill="#fff" fill-opacity="0.5" stroke="#7C38F0" stroke-width="0.95"/>
<circle cx="144.62" cy="249.64" r="1.48" fill="#fff" fill-opacity="0.5" stroke="#7C38F0" stroke-width="0.95"/>
<circle cx="146.74" cy="279.34" r="1.48" fill="#fff" fill-opacity="0.5" stroke="#7C38F0" stroke-width="0.95"/>
<circle cx="148.28" cy="293.53" r="1.48" fill="#fff" fill-opacity="0.5" stroke="#7C38F0" stroke-width="0.95"/>
<circle cx="151.13" cy="242.95" r="1.48" fill="#fff" fill-opacity="0.5" stroke="#7C38F0" stroke-width="0.95"/>
<circle cx="148.61" cy="273.12" r="1.48" fill="#fff" fill-opacity="0.5" stroke="#7C38F0" stroke-width="0.95"/>
<circle cx="147.81" cy="247.02" r="1.48" fill="#fff" fill-opacity="0.5" stroke="#7C38F0" stroke-width="0.95"/>
<circle cx="151.09" cy="255.76" r="1.48" fill="#fff" fill-opacity="0.5" stroke="#7C38F0" stroke-width="0.95"/>
<circle cx="151.32" cy="272.58" r="1.48" fill="#fff" fill-opacity="0.5" stroke="#7C38F0" stroke-width="0.95"/>
<circle cx="146.05" cy="277.52" r="1.48" fill="#fff" fill-opacity="0.5" stroke="#7C38F0" stroke-width="0.95"/>
<circle cx="152.45" cy="292.59" r="1.48" fill="#fff" fill-opacity="0.5" stroke="#7C38F0" stroke-width="0.95"/>
<circle cx="142.93" cy="282.33" r="1.48" fill="#fff" fill-opacity="0.5" stroke="#7C38F0" stroke-width="0.95"/>
<circle cx="146.44" cy="253.86" r="1.48" fill="#fff" fill-opacity="0.5" stroke="#7C38F0" stroke-width="0.95"/>
<circle cx="147.06" cy="262.36" r="1.48" fill="#fff" fill-opacity="0.5" stroke="#7C38F0" stroke-width="0.95"/>
<circle cx="147.76" cy="263.58" r="1.48" fill="#fff" fill-opacity="0.5" stroke="#7C38F0" stroke-width="0.95"/>
<circle cx="148.72" cy="277.11" r="1.48" fill="#fff" fill-opacity="0.5" stroke="#7C38F0" stroke-width="0.95"/>
<circle cx="154.36" cy="304.76" r="1.48" fill="#fff" fill-opacity="0.5" stroke="#7C38F0" stroke-width="0.95"/>
<circle cx="151.01" cy="258.99" r="1.48" fill="#fff" fill-opacity="0.5" stroke="#7C38F0" stroke-width="0.95"/>
<circle cx="147.61" cy="306.18" r="1.48" fill="#fff" fill-opacity="0.5" stroke="#7C38F0" stroke-width="0.95"/>
<circle cx="150.57" cy="260.16" r="1.48" fill="#fff" fill-opacity="0.5" stroke="#7C38F0" stroke-width="0.95"/>
<circle cx="141.53" cy="261.97" r="1.48" fill="#fff" fill-opacity="0.5" stroke="#7C38F0" stroke-width="0.95"/>
<circle cx="142.08" cy="308.70" r="1.48" fill="#fff" fill-opacity="0.5" stroke="#7C38F0" stroke-width="0.95"/>
<circle cx="143.17" cy="291.58" r="1.48" fill="#fff" fill-opacity="0.5" stroke="#7C38F0" stroke-width="0.95"/>
<circle cx="151.21" cy="273.80" r="1.48" fill="#fff" fill-opacity="0.5" stroke="#7C38F0" stroke-width="0.95"/>
<circle cx="141.05" cy="242.28" r="1.48" fill="#fff" fill-opacity="0.5" stroke="#7C38F0" stroke-width="0.95"/>
<circle cx="151.35" cy="263.09" r="1.48" fill="#fff" fill-opacity="0.5" stroke="#7C38F0" stroke-width="0.95"/>
<circle cx="155.04" cy="294.39" r="1.48" fill="#fff" fill-opacity="0.5" stroke="#7C38F0" stroke-width="0.95"/>
<circle cx="145.86" cy="222.30" r="1.48" fill="#fff" fill-opacity="0.5" stroke="#7C38F0" stroke-width="0.95"/>
<circle cx="144.46" cy="308.70" r="1.48" fill="#fff" fill-opacity="0.5" stroke="#7C38F0" stroke-width="0.95"/>
<rect x="134.80" y="255.80" width="24.20" height="22.85" fill="none" stroke="#7A33F0" stroke-width="1.6"/>
<path d="M147.00 222.00V255.00M147.00 279.45V309.00M141.00 222.00h12M141.00 309.00h12M135.40 264.60H158.40" stroke="#0d0d0d" stroke-width="1.1" fill="none"/>
<text x="148.20" y="219.60" font-size="13.5" text-anchor="middle" letter-spacing="1.65" fill="#1a1a1a">**</text>
<rect x="169.20" y="248.80" width="25.80" height="30.35" fill="#E3E3E3"/>
<circle cx="178.84" cy="249.75" r="1.48" fill="#fff" fill-opacity="0.5" stroke="#878787" stroke-width="0.95"/>
<circle cx="178.25" cy="267.33" r="1.48" fill="#fff" fill-opacity="0.5" stroke="#878787" stroke-width="0.95"/>
<circle cx="180.23" cy="245.07" r="1.48" fill="#fff" fill-opacity="0.5" stroke="#878787" stroke-width="0.95"/>
<circle cx="180.89" cy="310.04" r="1.48" fill="#fff" fill-opacity="0.5" stroke="#878787" stroke-width="0.95"/>
<circle cx="183.33" cy="264.58" r="1.48" fill="#fff" fill-opacity="0.5" stroke="#878787" stroke-width="0.95"/>
<circle cx="183.09" cy="265.77" r="1.48" fill="#fff" fill-opacity="0.5" stroke="#878787" stroke-width="0.95"/>
<circle cx="181.39" cy="296.62" r="1.48" fill="#fff" fill-opacity="0.5" stroke="#878787" stroke-width="0.95"/>
<circle cx="180.10" cy="256.01" r="1.48" fill="#fff" fill-opacity="0.5" stroke="#878787" stroke-width="0.95"/>
<circle cx="182.42" cy="297.10" r="1.48" fill="#fff" fill-opacity="0.5" stroke="#878787" stroke-width="0.95"/>
<circle cx="182.71" cy="232.31" r="1.48" fill="#fff" fill-opacity="0.5" stroke="#878787" stroke-width="0.95"/>
<circle cx="183.21" cy="237.97" r="1.48" fill="#fff" fill-opacity="0.5" stroke="#878787" stroke-width="0.95"/>
<circle cx="181.71" cy="238.29" r="1.48" fill="#fff" fill-opacity="0.5" stroke="#878787" stroke-width="0.95"/>
<circle cx="183.99" cy="259.50" r="1.48" fill="#fff" fill-opacity="0.5" stroke="#878787" stroke-width="0.95"/>
<circle cx="176.46" cy="249.47" r="1.48" fill="#fff" fill-opacity="0.5" stroke="#878787" stroke-width="0.95"/>
<circle cx="179.52" cy="278.04" r="1.48" fill="#fff" fill-opacity="0.5" stroke="#878787" stroke-width="0.95"/>
<circle cx="180.30" cy="266.79" r="1.48" fill="#fff" fill-opacity="0.5" stroke="#878787" stroke-width="0.95"/>
<circle cx="180.80" cy="258.29" r="1.48" fill="#fff" fill-opacity="0.5" stroke="#878787" stroke-width="0.95"/>
<circle cx="180.88" cy="257.92" r="1.48" fill="#fff" fill-opacity="0.5" stroke="#878787" stroke-width="0.95"/>
<circle cx="182.61" cy="249.62" r="1.48" fill="#fff" fill-opacity="0.5" stroke="#878787" stroke-width="0.95"/>
<circle cx="179.17" cy="258.21" r="1.48" fill="#fff" fill-opacity="0.5" stroke="#878787" stroke-width="0.95"/>
<circle cx="178.70" cy="287.37" r="1.48" fill="#fff" fill-opacity="0.5" stroke="#878787" stroke-width="0.95"/>
<circle cx="177.34" cy="269.99" r="1.48" fill="#fff" fill-opacity="0.5" stroke="#878787" stroke-width="0.95"/>
<circle cx="185.60" cy="258.93" r="1.48" fill="#fff" fill-opacity="0.5" stroke="#878787" stroke-width="0.95"/>
<circle cx="178.45" cy="274.77" r="1.48" fill="#fff" fill-opacity="0.5" stroke="#878787" stroke-width="0.95"/>
<circle cx="186.42" cy="268.53" r="1.48" fill="#fff" fill-opacity="0.5" stroke="#878787" stroke-width="0.95"/>
<circle cx="177.68" cy="255.63" r="1.48" fill="#fff" fill-opacity="0.5" stroke="#878787" stroke-width="0.95"/>
<circle cx="185.22" cy="254.59" r="1.48" fill="#fff" fill-opacity="0.5" stroke="#878787" stroke-width="0.95"/>
<circle cx="179.84" cy="285.47" r="1.48" fill="#fff" fill-opacity="0.5" stroke="#878787" stroke-width="0.95"/>
<circle cx="183.84" cy="220.90" r="1.48" fill="#fff" fill-opacity="0.5" stroke="#878787" stroke-width="0.95"/>
<circle cx="182.85" cy="313.30" r="1.48" fill="#fff" fill-opacity="0.5" stroke="#878787" stroke-width="0.95"/>
<rect x="170.00" y="249.60" width="24.20" height="28.75" fill="none" stroke="#8A8A8A" stroke-width="1.6"/>
<path d="M182.00 220.60V248.80M182.00 279.15V313.60M176.00 220.60h12M176.00 313.60h12M170.60 262.00H193.60" stroke="#0d0d0d" stroke-width="1.1" fill="none"/>
<text x="183.20" y="218.20" font-size="13.5" text-anchor="middle" letter-spacing="1.65" fill="#1a1a1a">**</text>
<line x1="130.00" y1="284.20" x2="198.40" y2="284.20" stroke="#000" stroke-width="1.3" stroke-dasharray="1.35 1.35"/>
<path d="M130.00 216.40h2.4M130.00 239.00h2.4M130.00 261.60h2.4M130.00 284.20h2.4M130.00 306.80h2.4" stroke="#1f1f1f" stroke-width="0.95" fill="none"/>
<path d="M129.70 199.40V323.50" stroke="#222" stroke-width="1.5" fill="none"/>
<text x="294.00" y="191.94" font-size="10.45" text-anchor="middle" font-weight="normal" fill="#222" stroke="#222" stroke-width="0.2">IPS</text>
<text transform="translate(232.50,262.40) rotate(-90)" font-size="10.45" text-anchor="middle" fill="#222" stroke="#222" stroke-width="0.2">Discrimination Index</text>
<text x="252.80" y="243.34" font-size="10.45" text-anchor="end" font-weight="normal" fill="#222" stroke="#222" stroke-width="0.2">0.3</text>
<text x="252.80" y="288.14" font-size="10.45" text-anchor="end" font-weight="normal" fill="#222" stroke="#222" stroke-width="0.2">0</text>
<rect x="262.20" y="257.20" width="25.80" height="27.25" fill="#E4D7FB"/>
<circle cx="274.07" cy="260.01" r="1.48" fill="#fff" fill-opacity="0.5" stroke="#7C38F0" stroke-width="0.95"/>
<circle cx="274.12" cy="235.54" r="1.48" fill="#fff" fill-opacity="0.5" stroke="#7C38F0" stroke-width="0.95"/>
<circle cx="277.67" cy="299.62" r="1.48" fill="#fff" fill-opacity="0.5" stroke="#7C38F0" stroke-width="0.95"/>
<circle cx="272.82" cy="271.82" r="1.48" fill="#fff" fill-opacity="0.5" stroke="#7C38F0" stroke-width="0.95"/>
<circle cx="272.07" cy="236.46" r="1.48" fill="#fff" fill-opacity="0.5" stroke="#7C38F0" stroke-width="0.95"/>
<circle cx="278.21" cy="300.16" r="1.48" fill="#fff" fill-opacity="0.5" stroke="#7C38F0" stroke-width="0.95"/>
<circle cx="273.19" cy="288.12" r="1.48" fill="#fff" fill-opacity="0.5" stroke="#7C38F0" stroke-width="0.95"/>
<circle cx="278.92" cy="277.14" r="1.48" fill="#fff" fill-opacity="0.5" stroke="#7C38F0" stroke-width="0.95"/>
<circle cx="275.95" cy="286.09" r="1.48" fill="#fff" fill-opacity="0.5" stroke="#7C38F0" stroke-width="0.95"/>
<circle cx="271.57" cy="270.99" r="1.48" fill="#fff" fill-opacity="0.5" stroke="#7C38F0" stroke-width="0.95"/>
<circle cx="280.43" cy="259.63" r="1.48" fill="#fff" fill-opacity="0.5" stroke="#7C38F0" stroke-width="0.95"/>
<circle cx="273.09" cy="294.83" r="1.48" fill="#fff" fill-opacity="0.5" stroke="#7C38F0" stroke-width="0.95"/>
<circle cx="279.38" cy="295.30" r="1.48" fill="#fff" fill-opacity="0.5" stroke="#7C38F0" stroke-width="0.95"/>
<circle cx="274.23" cy="294.08" r="1.48" fill="#fff" fill-opacity="0.5" stroke="#7C38F0" stroke-width="0.95"/>
<circle cx="271.33" cy="268.95" r="1.48" fill="#fff" fill-opacity="0.5" stroke="#7C38F0" stroke-width="0.95"/>
<circle cx="269.00" cy="279.34" r="1.48" fill="#fff" fill-opacity="0.5" stroke="#7C38F0" stroke-width="0.95"/>
<circle cx="272.87" cy="248.53" r="1.48" fill="#fff" fill-opacity="0.5" stroke="#7C38F0" stroke-width="0.95"/>
<circle cx="273.54" cy="270.04" r="1.48" fill="#fff" fill-opacity="0.5" stroke="#7C38F0" stroke-width="0.95"/>
<circle cx="274.22" cy="288.16" r="1.48" fill="#fff" fill-opacity="0.5" stroke="#7C38F0" stroke-width="0.95"/>
<circle cx="272.82" cy="248.68" r="1.48" fill="#fff" fill-opacity="0.5" stroke="#7C38F0" stroke-width="0.95"/>
<circle cx="273.31" cy="277.55" r="1.48" fill="#fff" fill-opacity="0.5" stroke="#7C38F0" stroke-width="0.95"/>
<circle cx="270.32" cy="281.84" r="1.48" fill="#fff" fill-opacity="0.5" stroke="#7C38F0" stroke-width="0.95"/>
<circle cx="277.67" cy="239.31" r="1.48" fill="#fff" fill-opacity="0.5" stroke="#7C38F0" stroke-width="0.95"/>
<circle cx="273.42" cy="263.67" r="1.48" fill="#fff" fill-opacity="0.5" stroke="#7C38F0" stroke-width="0.95"/>
<circle cx="268.99" cy="244.65" r="1.48" fill="#fff" fill-opacity="0.5" stroke="#7C38F0" stroke-width="0.95"/>
<circle cx="280.94" cy="281.61" r="1.48" fill="#fff" fill-opacity="0.5" stroke="#7C38F0" stroke-width="0.95"/>
<circle cx="268.12" cy="283.36" r="1.48" fill="#fff" fill-opacity="0.5" stroke="#7C38F0" stroke-width="0.95"/>
<circle cx="277.80" cy="283.52" r="1.48" fill="#fff" fill-opacity="0.5" stroke="#7C38F0" stroke-width="0.95"/>
<circle cx="274.46" cy="234.30" r="1.48" fill="#fff" fill-opacity="0.5" stroke="#7C38F0" stroke-width="0.95"/>
<circle cx="277.66" cy="303.10" r="1.48" fill="#fff" fill-opacity="0.5" stroke="#7C38F0" stroke-width="0.95"/>
<circle cx="275.40" cy="206.40" r="1.48" fill="#fff" fill-opacity="0.5" stroke="#7C38F0" stroke-width="0.95"/>
<rect x="263.00" y="258.00" width="24.20" height="25.65" fill="none" stroke="#7A33F0" stroke-width="1.6"/>
<path d="M275.00 234.00V257.20M275.00 284.45V303.40M269.00 234.00h12M269.00 303.40h12M263.60 271.00H286.60" stroke="#0d0d0d" stroke-width="1.1" fill="none"/>
<text x="276.20" y="205.20" font-size="13.5" text-anchor="middle" letter-spacing="1.65" fill="#1a1a1a">**</text>
<rect x="297.20" y="263.60" width="25.60" height="19.65" fill="#E3E3E3"/>
<circle cx="307.61" cy="279.67" r="1.48" fill="#fff" fill-opacity="0.5" stroke="#878787" stroke-width="0.95"/>
<circle cx="305.54" cy="257.71" r="1.48" fill="#fff" fill-opacity="0.5" stroke="#878787" stroke-width="0.95"/>
<circle cx="308.02" cy="282.50" r="1.48" fill="#fff" fill-opacity="0.5" stroke="#878787" stroke-width="0.95"/>
<circle cx="306.05" cy="253.47" r="1.48" fill="#fff" fill-opacity="0.5" stroke="#878787" stroke-width="0.95"/>
<circle cx="307.58" cy="289.83" r="1.48" fill="#fff" fill-opacity="0.5" stroke="#878787" stroke-width="0.95"/>
<circle cx="308.93" cy="263.41" r="1.48" fill="#fff" fill-opacity="0.5" stroke="#878787" stroke-width="0.95"/>
<circle cx="303.93" cy="253.63" r="1.48" fill="#fff" fill-opacity="0.5" stroke="#878787" stroke-width="0.95"/>
<circle cx="305.75" cy="260.17" r="1.48" fill="#fff" fill-opacity="0.5" stroke="#878787" stroke-width="0.95"/>
<circle cx="307.10" cy="258.20" r="1.48" fill="#fff" fill-opacity="0.5" stroke="#878787" stroke-width="0.95"/>
<circle cx="309.85" cy="285.47" r="1.48" fill="#fff" fill-opacity="0.5" stroke="#878787" stroke-width="0.95"/>
<circle cx="316.76" cy="271.64" r="1.48" fill="#fff" fill-opacity="0.5" stroke="#878787" stroke-width="0.95"/>
<circle cx="308.80" cy="268.35" r="1.48" fill="#fff" fill-opacity="0.5" stroke="#878787" stroke-width="0.95"/>
<circle cx="307.09" cy="257.46" r="1.48" fill="#fff" fill-opacity="0.5" stroke="#878787" stroke-width="0.95"/>
<circle cx="309.59" cy="298.33" r="1.48" fill="#fff" fill-opacity="0.5" stroke="#878787" stroke-width="0.95"/>
<circle cx="307.02" cy="255.70" r="1.48" fill="#fff" fill-opacity="0.5" stroke="#878787" stroke-width="0.95"/>
<circle cx="313.76" cy="255.45" r="1.48" fill="#fff" fill-opacity="0.5" stroke="#878787" stroke-width="0.95"/>
<circle cx="314.88" cy="253.54" r="1.48" fill="#fff" fill-opacity="0.5" stroke="#878787" stroke-width="0.95"/>
<circle cx="308.73" cy="283.06" r="1.48" fill="#fff" fill-opacity="0.5" stroke="#878787" stroke-width="0.95"/>
<circle cx="312.60" cy="295.12" r="1.48" fill="#fff" fill-opacity="0.5" stroke="#878787" stroke-width="0.95"/>
<circle cx="304.76" cy="273.31" r="1.48" fill="#fff" fill-opacity="0.5" stroke="#878787" stroke-width="0.95"/>
<circle cx="314.29" cy="262.26" r="1.48" fill="#fff" fill-opacity="0.5" stroke="#878787" stroke-width="0.95"/>
<circle cx="311.06" cy="289.36" r="1.48" fill="#fff" fill-opacity="0.5" stroke="#878787" stroke-width="0.95"/>
<circle cx="312.93" cy="294.91" r="1.48" fill="#fff" fill-opacity="0.5" stroke="#878787" stroke-width="0.95"/>
<circle cx="311.36" cy="276.47" r="1.48" fill="#fff" fill-opacity="0.5" stroke="#878787" stroke-width="0.95"/>
<circle cx="315.59" cy="281.73" r="1.48" fill="#fff" fill-opacity="0.5" stroke="#878787" stroke-width="0.95"/>
<circle cx="315.75" cy="263.29" r="1.48" fill="#fff" fill-opacity="0.5" stroke="#878787" stroke-width="0.95"/>
<circle cx="314.28" cy="264.48" r="1.48" fill="#fff" fill-opacity="0.5" stroke="#878787" stroke-width="0.95"/>
<circle cx="311.17" cy="263.27" r="1.48" fill="#fff" fill-opacity="0.5" stroke="#878787" stroke-width="0.95"/>
<circle cx="306.96" cy="253.30" r="1.48" fill="#fff" fill-opacity="0.5" stroke="#878787" stroke-width="0.95"/>
<circle cx="307.60" cy="301.10" r="1.48" fill="#fff" fill-opacity="0.5" stroke="#878787" stroke-width="0.95"/>
<circle cx="303.60" cy="215.00" r="1.48" fill="#fff" fill-opacity="0.5" stroke="#878787" stroke-width="0.95"/>
<rect x="298.00" y="264.40" width="24.00" height="18.05" fill="none" stroke="#8A8A8A" stroke-width="1.6"/>
<path d="M309.60 253.00V263.60M309.60 283.25V301.40M303.60 253.00h12M303.60 301.40h12M298.60 272.40H321.40" stroke="#0d0d0d" stroke-width="1.1" fill="none"/>
<text x="310.80" y="212.20" font-size="13.5" text-anchor="middle" letter-spacing="1.65" fill="#1a1a1a">**</text>
<line x1="258.00" y1="284.20" x2="326.00" y2="284.20" stroke="#000" stroke-width="1.3" stroke-dasharray="1.35 1.35"/>
<path d="M258.00 216.40h2.4M258.00 239.00h2.4M258.00 261.60h2.4M258.00 284.20h2.4M258.00 306.80h2.4" stroke="#1f1f1f" stroke-width="0.95" fill="none"/>
<path d="M257.70 199.40V323.50" stroke="#222" stroke-width="1.5" fill="none"/>
<path d="M391.80 233.10Q406.80 224.50 421.80 233.10" stroke="#bdbdbd" stroke-width="0.95" stroke-dasharray="2.2 2.2" fill="none"/>
<path d="M391.80 284.90Q406.80 293.90 421.80 284.90" stroke="#bdbdbd" stroke-width="0.95" stroke-dasharray="2.2 2.2" fill="none"/>
<path d="M380.60 245.50Q371.00 260.50 380.60 274.90" stroke="#bdbdbd" stroke-width="0.95" stroke-dasharray="2.2 2.2" fill="none"/>
<path d="M427.40 244.90L386.00 275.50" stroke="#bdbdbd" stroke-width="0.95" stroke-dasharray="2.2 2.2" fill="none"/>
<path d="M386.00 244.90L427.40 275.50" stroke="#CC7ABB" stroke-width="2.5" fill="none" stroke-linecap="butt"/>
<path d="M434.60 245.50Q444.60 260.50 434.60 274.90" stroke="#97B800" stroke-width="2.5" fill="none" stroke-linecap="butt"/>
<text x="377.00" y="237.74" font-size="10.45" text-anchor="middle" font-weight="normal" fill="#222" stroke="#222" stroke-width="0.2">TT</text>
<text x="433.00" y="237.74" font-size="10.45" text-anchor="middle" font-weight="normal" fill="#222" stroke="#222" stroke-width="0.2">VV</text>
<text x="377.00" y="289.34" font-size="10.45" text-anchor="middle" font-weight="normal" fill="#c2c2c2" stroke="#c2c2c2" stroke-width="0.2">TV</text>
<text x="433.00" y="289.34" font-size="10.45" text-anchor="middle" font-weight="normal" fill="#222" stroke="#222" stroke-width="0.2">VT</text>
<text x="522.30" y="191.94" font-size="10.45" text-anchor="middle" font-weight="normal" fill="#222" stroke="#222" stroke-width="0.2">SPL</text>
<text transform="translate(460.10,262.40) rotate(-90)" font-size="10.45" text-anchor="middle" fill="#222" stroke="#222" stroke-width="0.2">Discrimination Index</text>
<text x="480.90" y="243.34" font-size="10.45" text-anchor="end" font-weight="normal" fill="#222" stroke="#222" stroke-width="0.2">0.3</text>
<text x="480.90" y="288.14" font-size="10.45" text-anchor="end" font-weight="normal" fill="#222" stroke="#222" stroke-width="0.2">0</text>
<rect x="490.20" y="255.00" width="26.20" height="29.45" fill="#F5E3F0"/>
<circle cx="506.36" cy="276.85" r="1.48" fill="#fff" fill-opacity="0.5" stroke="#CE7CBD" stroke-width="0.95"/>
<circle cx="508.45" cy="307.79" r="1.48" fill="#fff" fill-opacity="0.5" stroke="#CE7CBD" stroke-width="0.95"/>
<circle cx="508.94" cy="237.37" r="1.48" fill="#fff" fill-opacity="0.5" stroke="#CE7CBD" stroke-width="0.95"/>
<circle cx="498.84" cy="281.53" r="1.48" fill="#fff" fill-opacity="0.5" stroke="#CE7CBD" stroke-width="0.95"/>
<circle cx="503.68" cy="262.26" r="1.48" fill="#fff" fill-opacity="0.5" stroke="#CE7CBD" stroke-width="0.95"/>
<circle cx="500.40" cy="255.39" r="1.48" fill="#fff" fill-opacity="0.5" stroke="#CE7CBD" stroke-width="0.95"/>
<circle cx="505.98" cy="281.99" r="1.48" fill="#fff" fill-opacity="0.5" stroke="#CE7CBD" stroke-width="0.95"/>
<circle cx="499.28" cy="248.31" r="1.48" fill="#fff" fill-opacity="0.5" stroke="#CE7CBD" stroke-width="0.95"/>
<circle cx="495.31" cy="258.73" r="1.48" fill="#fff" fill-opacity="0.5" stroke="#CE7CBD" stroke-width="0.95"/>
<circle cx="500.38" cy="291.06" r="1.48" fill="#fff" fill-opacity="0.5" stroke="#CE7CBD" stroke-width="0.95"/>
<circle cx="501.27" cy="311.97" r="1.48" fill="#fff" fill-opacity="0.5" stroke="#CE7CBD" stroke-width="0.95"/>
<circle cx="504.98" cy="301.46" r="1.48" fill="#fff" fill-opacity="0.5" stroke="#CE7CBD" stroke-width="0.95"/>
<circle cx="505.11" cy="253.05" r="1.48" fill="#fff" fill-opacity="0.5" stroke="#CE7CBD" stroke-width="0.95"/>
<circle cx="501.37" cy="312.65" r="1.48" fill="#fff" fill-opacity="0.5" stroke="#CE7CBD" stroke-width="0.95"/>
<circle cx="499.39" cy="259.89" r="1.48" fill="#fff" fill-opacity="0.5" stroke="#CE7CBD" stroke-width="0.95"/>
<circle cx="504.23" cy="231.94" r="1.48" fill="#fff" fill-opacity="0.5" stroke="#CE7CBD" stroke-width="0.95"/>
<circle cx="501.79" cy="244.37" r="1.48" fill="#fff" fill-opacity="0.5" stroke="#CE7CBD" stroke-width="0.95"/>
<circle cx="503.13" cy="279.11" r="1.48" fill="#fff" fill-opacity="0.5" stroke="#CE7CBD" stroke-width="0.95"/>
<circle cx="505.27" cy="269.17" r="1.48" fill="#fff" fill-opacity="0.5" stroke="#CE7CBD" stroke-width="0.95"/>
<circle cx="496.62" cy="254.18" r="1.48" fill="#fff" fill-opacity="0.5" stroke="#CE7CBD" stroke-width="0.95"/>
<circle cx="496.42" cy="279.88" r="1.48" fill="#fff" fill-opacity="0.5" stroke="#CE7CBD" stroke-width="0.95"/>
<circle cx="504.00" cy="296.00" r="1.48" fill="#fff" fill-opacity="0.5" stroke="#CE7CBD" stroke-width="0.95"/>
<circle cx="499.91" cy="223.54" r="1.48" fill="#fff" fill-opacity="0.5" stroke="#CE7CBD" stroke-width="0.95"/>
<circle cx="505.86" cy="290.65" r="1.48" fill="#fff" fill-opacity="0.5" stroke="#CE7CBD" stroke-width="0.95"/>
<circle cx="501.85" cy="314.17" r="1.48" fill="#fff" fill-opacity="0.5" stroke="#CE7CBD" stroke-width="0.95"/>
<circle cx="506.11" cy="270.45" r="1.48" fill="#fff" fill-opacity="0.5" stroke="#CE7CBD" stroke-width="0.95"/>
<circle cx="506.39" cy="246.70" r="1.48" fill="#fff" fill-opacity="0.5" stroke="#CE7CBD" stroke-width="0.95"/>
<circle cx="509.00" cy="285.61" r="1.48" fill="#fff" fill-opacity="0.5" stroke="#CE7CBD" stroke-width="0.95"/>
<circle cx="500.85" cy="222.30" r="1.48" fill="#fff" fill-opacity="0.5" stroke="#CE7CBD" stroke-width="0.95"/>
<circle cx="502.34" cy="315.70" r="1.48" fill="#fff" fill-opacity="0.5" stroke="#CE7CBD" stroke-width="0.95"/>
<rect x="491.00" y="255.80" width="24.60" height="27.85" fill="none" stroke="#CE7ABC" stroke-width="1.6"/>
<path d="M503.30 222.00V255.00M503.30 284.45V316.00M497.30 222.00h12M497.30 316.00h12M491.60 267.60H515.00" stroke="#0d0d0d" stroke-width="1.1" fill="none"/>
<text x="504.50" y="220.20" font-size="13.5" text-anchor="middle" letter-spacing="1.65" fill="#1a1a1a">**</text>
<rect x="525.20" y="255.00" width="25.60" height="24.45" fill="#E6EEC8"/>
<circle cx="536.51" cy="277.45" r="1.48" fill="#fff" fill-opacity="0.5" stroke="#92B205" stroke-width="0.95"/>
<circle cx="536.22" cy="289.56" r="1.48" fill="#fff" fill-opacity="0.5" stroke="#92B205" stroke-width="0.95"/>
<circle cx="532.86" cy="259.34" r="1.48" fill="#fff" fill-opacity="0.5" stroke="#92B205" stroke-width="0.95"/>
<circle cx="545.81" cy="247.04" r="1.48" fill="#fff" fill-opacity="0.5" stroke="#92B205" stroke-width="0.95"/>
<circle cx="545.11" cy="230.64" r="1.48" fill="#fff" fill-opacity="0.5" stroke="#92B205" stroke-width="0.95"/>
<circle cx="535.36" cy="264.92" r="1.48" fill="#fff" fill-opacity="0.5" stroke="#92B205" stroke-width="0.95"/>
<circle cx="537.61" cy="275.20" r="1.48" fill="#fff" fill-opacity="0.5" stroke="#92B205" stroke-width="0.95"/>
<circle cx="543.02" cy="256.36" r="1.48" fill="#fff" fill-opacity="0.5" stroke="#92B205" stroke-width="0.95"/>
<circle cx="541.67" cy="242.04" r="1.48" fill="#fff" fill-opacity="0.5" stroke="#92B205" stroke-width="0.95"/>
<circle cx="543.81" cy="248.13" r="1.48" fill="#fff" fill-opacity="0.5" stroke="#92B205" stroke-width="0.95"/>
<circle cx="533.43" cy="274.27" r="1.48" fill="#fff" fill-opacity="0.5" stroke="#92B205" stroke-width="0.95"/>
<circle cx="541.76" cy="258.65" r="1.48" fill="#fff" fill-opacity="0.5" stroke="#92B205" stroke-width="0.95"/>
<circle cx="546.18" cy="266.08" r="1.48" fill="#fff" fill-opacity="0.5" stroke="#92B205" stroke-width="0.95"/>
<circle cx="537.60" cy="297.55" r="1.48" fill="#fff" fill-opacity="0.5" stroke="#92B205" stroke-width="0.95"/>
<circle cx="537.82" cy="272.84" r="1.48" fill="#fff" fill-opacity="0.5" stroke="#92B205" stroke-width="0.95"/>
<circle cx="534.10" cy="264.87" r="1.48" fill="#fff" fill-opacity="0.5" stroke="#92B205" stroke-width="0.95"/>
<circle cx="544.09" cy="279.17" r="1.48" fill="#fff" fill-opacity="0.5" stroke="#92B205" stroke-width="0.95"/>
<circle cx="536.49" cy="267.21" r="1.48" fill="#fff" fill-opacity="0.5" stroke="#92B205" stroke-width="0.95"/>
<circle cx="540.89" cy="236.37" r="1.48" fill="#fff" fill-opacity="0.5" stroke="#92B205" stroke-width="0.95"/>
<circle cx="540.94" cy="286.15" r="1.48" fill="#fff" fill-opacity="0.5" stroke="#92B205" stroke-width="0.95"/>
<circle cx="539.53" cy="271.98" r="1.48" fill="#fff" fill-opacity="0.5" stroke="#92B205" stroke-width="0.95"/>
<circle cx="539.97" cy="263.89" r="1.48" fill="#fff" fill-opacity="0.5" stroke="#92B205" stroke-width="0.95"/>
<circle cx="540.73" cy="266.88" r="1.48" fill="#fff" fill-opacity="0.5" stroke="#92B205" stroke-width="0.95"/>
<circle cx="543.69" cy="262.18" r="1.48" fill="#fff" fill-opacity="0.5" stroke="#92B205" stroke-width="0.95"/>
<circle cx="530.79" cy="269.20" r="1.48" fill="#fff" fill-opacity="0.5" stroke="#92B205" stroke-width="0.95"/>
<circle cx="539.61" cy="261.13" r="1.48" fill="#fff" fill-opacity="0.5" stroke="#92B205" stroke-width="0.95"/>
<circle cx="539.36" cy="274.97" r="1.48" fill="#fff" fill-opacity="0.5" stroke="#92B205" stroke-width="0.95"/>
<circle cx="539.33" cy="285.90" r="1.48" fill="#fff" fill-opacity="0.5" stroke="#92B205" stroke-width="0.95"/>
<circle cx="539.43" cy="229.70" r="1.48" fill="#fff" fill-opacity="0.5" stroke="#92B205" stroke-width="0.95"/>
<circle cx="539.97" cy="297.70" r="1.48" fill="#fff" fill-opacity="0.5" stroke="#92B205" stroke-width="0.95"/>
<rect x="526.00" y="255.80" width="24.00" height="22.85" fill="none" stroke="#90B100" stroke-width="1.6"/>
<path d="M538.00 229.40V255.00M538.00 279.45V298.00M532.00 229.40h12M532.00 298.00h12M526.60 268.00H549.40" stroke="#0d0d0d" stroke-width="1.1" fill="none"/>
<text x="539.20" y="227.60" font-size="13.5" text-anchor="middle" letter-spacing="1.65" fill="#1a1a1a">**</text>
<line x1="486.00" y1="284.20" x2="554.40" y2="284.20" stroke="#000" stroke-width="1.3" stroke-dasharray="1.35 1.35"/>
<path d="M486.00 216.40h2.4M486.00 239.00h2.4M486.00 261.60h2.4M486.00 284.20h2.4M486.00 306.80h2.4" stroke="#1f1f1f" stroke-width="0.95" fill="none"/>
<path d="M485.70 199.40V323.50" stroke="#222" stroke-width="1.5" fill="none"/>
<text x="649.60" y="191.94" font-size="10.45" text-anchor="middle" font-weight="normal" fill="#222" stroke="#222" stroke-width="0.2">IPS</text>
<text transform="translate(588.10,262.40) rotate(-90)" font-size="10.45" text-anchor="middle" fill="#222" stroke="#222" stroke-width="0.2">Discrimination Index</text>
<text x="607.60" y="243.34" font-size="10.45" text-anchor="end" font-weight="normal" fill="#222" stroke="#222" stroke-width="0.2">0.3</text>
<text x="607.60" y="288.14" font-size="10.45" text-anchor="end" font-weight="normal" fill="#222" stroke="#222" stroke-width="0.2">0</text>
<rect x="617.20" y="257.20" width="25.80" height="30.05" fill="#F5E3F0"/>
<circle cx="629.87" cy="303.48" r="1.48" fill="#fff" fill-opacity="0.5" stroke="#CE7CBD" stroke-width="0.95"/>
<circle cx="631.52" cy="257.21" r="1.48" fill="#fff" fill-opacity="0.5" stroke="#CE7CBD" stroke-width="0.95"/>
<circle cx="628.84" cy="280.03" r="1.48" fill="#fff" fill-opacity="0.5" stroke="#CE7CBD" stroke-width="0.95"/>
<circle cx="633.15" cy="265.39" r="1.48" fill="#fff" fill-opacity="0.5" stroke="#CE7CBD" stroke-width="0.95"/>
<circle cx="630.33" cy="269.64" r="1.48" fill="#fff" fill-opacity="0.5" stroke="#CE7CBD" stroke-width="0.95"/>
<circle cx="630.47" cy="263.00" r="1.48" fill="#fff" fill-opacity="0.5" stroke="#CE7CBD" stroke-width="0.95"/>
<circle cx="633.17" cy="292.49" r="1.48" fill="#fff" fill-opacity="0.5" stroke="#CE7CBD" stroke-width="0.95"/>
<circle cx="628.46" cy="282.57" r="1.48" fill="#fff" fill-opacity="0.5" stroke="#CE7CBD" stroke-width="0.95"/>
<circle cx="633.19" cy="249.17" r="1.48" fill="#fff" fill-opacity="0.5" stroke="#CE7CBD" stroke-width="0.95"/>
<circle cx="626.84" cy="260.02" r="1.48" fill="#fff" fill-opacity="0.5" stroke="#CE7CBD" stroke-width="0.95"/>
<circle cx="635.85" cy="265.95" r="1.48" fill="#fff" fill-opacity="0.5" stroke="#CE7CBD" stroke-width="0.95"/>
<circle cx="631.44" cy="263.24" r="1.48" fill="#fff" fill-opacity="0.5" stroke="#CE7CBD" stroke-width="0.95"/>
<circle cx="634.88" cy="285.23" r="1.48" fill="#fff" fill-opacity="0.5" stroke="#CE7CBD" stroke-width="0.95"/>
<circle cx="631.89" cy="276.57" r="1.48" fill="#fff" fill-opacity="0.5" stroke="#CE7CBD" stroke-width="0.95"/>
<circle cx="623.53" cy="306.53" r="1.48" fill="#fff" fill-opacity="0.5" stroke="#CE7CBD" stroke-width="0.95"/>
<circle cx="628.13" cy="275.28" r="1.48" fill="#fff" fill-opacity="0.5" stroke="#CE7CBD" stroke-width="0.95"/>
<circle cx="634.34" cy="259.90" r="1.48" fill="#fff" fill-opacity="0.5" stroke="#CE7CBD" stroke-width="0.95"/>
<circle cx="631.52" cy="260.71" r="1.48" fill="#fff" fill-opacity="0.5" stroke="#CE7CBD" stroke-width="0.95"/>
<circle cx="629.86" cy="263.10" r="1.48" fill="#fff" fill-opacity="0.5" stroke="#CE7CBD" stroke-width="0.95"/>
<circle cx="634.09" cy="225.44" r="1.48" fill="#fff" fill-opacity="0.5" stroke="#CE7CBD" stroke-width="0.95"/>
<circle cx="632.84" cy="257.58" r="1.48" fill="#fff" fill-opacity="0.5" stroke="#CE7CBD" stroke-width="0.95"/>
<circle cx="634.78" cy="230.38" r="1.48" fill="#fff" fill-opacity="0.5" stroke="#CE7CBD" stroke-width="0.95"/>
<circle cx="628.88" cy="266.40" r="1.48" fill="#fff" fill-opacity="0.5" stroke="#CE7CBD" stroke-width="0.95"/>
<circle cx="638.37" cy="261.01" r="1.48" fill="#fff" fill-opacity="0.5" stroke="#CE7CBD" stroke-width="0.95"/>
<circle cx="632.45" cy="234.00" r="1.48" fill="#fff" fill-opacity="0.5" stroke="#CE7CBD" stroke-width="0.95"/>
<circle cx="627.45" cy="286.68" r="1.48" fill="#fff" fill-opacity="0.5" stroke="#CE7CBD" stroke-width="0.95"/>
<circle cx="631.60" cy="304.87" r="1.48" fill="#fff" fill-opacity="0.5" stroke="#CE7CBD" stroke-width="0.95"/>
<circle cx="633.56" cy="296.08" r="1.48" fill="#fff" fill-opacity="0.5" stroke="#CE7CBD" stroke-width="0.95"/>
<circle cx="631.78" cy="217.30" r="1.48" fill="#fff" fill-opacity="0.5" stroke="#CE7CBD" stroke-width="0.95"/>
<circle cx="630.10" cy="306.70" r="1.48" fill="#fff" fill-opacity="0.5" stroke="#CE7CBD" stroke-width="0.95"/>
<rect x="618.00" y="258.00" width="24.20" height="28.45" fill="none" stroke="#CE7ABC" stroke-width="1.6"/>
<path d="M630.00 217.00V257.20M630.00 287.25V307.00M624.00 217.00h12M624.00 307.00h12M618.60 275.40H641.60" stroke="#0d0d0d" stroke-width="1.1" fill="none"/>
<text x="631.20" y="214.60" font-size="13.5" text-anchor="middle" letter-spacing="1.65" fill="#1a1a1a">**</text>
<rect x="652.20" y="261.20" width="25.80" height="22.25" fill="#E6EEC8"/>
<circle cx="664.19" cy="276.90" r="1.48" fill="#fff" fill-opacity="0.5" stroke="#92B205" stroke-width="0.95"/>
<circle cx="662.70" cy="255.93" r="1.48" fill="#fff" fill-opacity="0.5" stroke="#92B205" stroke-width="0.95"/>
<circle cx="661.49" cy="278.64" r="1.48" fill="#fff" fill-opacity="0.5" stroke="#92B205" stroke-width="0.95"/>
<circle cx="665.80" cy="242.97" r="1.48" fill="#fff" fill-opacity="0.5" stroke="#92B205" stroke-width="0.95"/>
<circle cx="664.58" cy="266.90" r="1.48" fill="#fff" fill-opacity="0.5" stroke="#92B205" stroke-width="0.95"/>
<circle cx="664.20" cy="287.31" r="1.48" fill="#fff" fill-opacity="0.5" stroke="#92B205" stroke-width="0.95"/>
<circle cx="662.72" cy="292.72" r="1.48" fill="#fff" fill-opacity="0.5" stroke="#92B205" stroke-width="0.95"/>
<circle cx="661.03" cy="271.85" r="1.48" fill="#fff" fill-opacity="0.5" stroke="#92B205" stroke-width="0.95"/>
<circle cx="668.19" cy="268.00" r="1.48" fill="#fff" fill-opacity="0.5" stroke="#92B205" stroke-width="0.95"/>
<circle cx="671.44" cy="275.87" r="1.48" fill="#fff" fill-opacity="0.5" stroke="#92B205" stroke-width="0.95"/>
<circle cx="665.93" cy="289.15" r="1.48" fill="#fff" fill-opacity="0.5" stroke="#92B205" stroke-width="0.95"/>
<circle cx="664.90" cy="270.06" r="1.48" fill="#fff" fill-opacity="0.5" stroke="#92B205" stroke-width="0.95"/>
<circle cx="662.98" cy="297.64" r="1.48" fill="#fff" fill-opacity="0.5" stroke="#92B205" stroke-width="0.95"/>
<circle cx="659.37" cy="249.75" r="1.48" fill="#fff" fill-opacity="0.5" stroke="#92B205" stroke-width="0.95"/>
<circle cx="660.53" cy="256.49" r="1.48" fill="#fff" fill-opacity="0.5" stroke="#92B205" stroke-width="0.95"/>
<circle cx="670.52" cy="269.25" r="1.48" fill="#fff" fill-opacity="0.5" stroke="#92B205" stroke-width="0.95"/>
<circle cx="661.78" cy="284.39" r="1.48" fill="#fff" fill-opacity="0.5" stroke="#92B205" stroke-width="0.95"/>
<circle cx="664.31" cy="292.74" r="1.48" fill="#fff" fill-opacity="0.5" stroke="#92B205" stroke-width="0.95"/>
<circle cx="664.93" cy="295.77" r="1.48" fill="#fff" fill-opacity="0.5" stroke="#92B205" stroke-width="0.95"/>
<circle cx="663.73" cy="263.43" r="1.48" fill="#fff" fill-opacity="0.5" stroke="#92B205" stroke-width="0.95"/>
<circle cx="665.96" cy="253.41" r="1.48" fill="#fff" fill-opacity="0.5" stroke="#92B205" stroke-width="0.95"/>
<circle cx="660.25" cy="253.46" r="1.48" fill="#fff" fill-opacity="0.5" stroke="#92B205" stroke-width="0.95"/>
<circle cx="664.68" cy="253.83" r="1.48" fill="#fff" fill-opacity="0.5" stroke="#92B205" stroke-width="0.95"/>
<circle cx="666.93" cy="292.98" r="1.48" fill="#fff" fill-opacity="0.5" stroke="#92B205" stroke-width="0.95"/>
<circle cx="659.97" cy="257.72" r="1.48" fill="#fff" fill-opacity="0.5" stroke="#92B205" stroke-width="0.95"/>
<circle cx="669.85" cy="281.48" r="1.48" fill="#fff" fill-opacity="0.5" stroke="#92B205" stroke-width="0.95"/>
<circle cx="666.85" cy="290.30" r="1.48" fill="#fff" fill-opacity="0.5" stroke="#92B205" stroke-width="0.95"/>
<circle cx="670.64" cy="285.53" r="1.48" fill="#fff" fill-opacity="0.5" stroke="#92B205" stroke-width="0.95"/>
<circle cx="667.45" cy="240.70" r="1.48" fill="#fff" fill-opacity="0.5" stroke="#92B205" stroke-width="0.95"/>
<circle cx="664.65" cy="298.30" r="1.48" fill="#fff" fill-opacity="0.5" stroke="#92B205" stroke-width="0.95"/>
<rect x="653.00" y="262.00" width="24.20" height="20.65" fill="none" stroke="#90B100" stroke-width="1.6"/>
<path d="M665.00 240.40V261.20M665.00 283.45V298.60M659.00 240.40h12M659.00 298.60h12M653.60 274.40H676.60" stroke="#0d0d0d" stroke-width="1.1" fill="none"/>
<text x="666.20" y="238.60" font-size="13.5" text-anchor="middle" letter-spacing="1.65" fill="#1a1a1a">**</text>
<line x1="612.60" y1="284.20" x2="681.60" y2="284.20" stroke="#000" stroke-width="1.3" stroke-dasharray="1.35 1.35"/>
<path d="M612.60 216.40h2.4M612.60 239.00h2.4M612.60 261.60h2.4M612.60 284.20h2.4M612.60 306.80h2.4" stroke="#1f1f1f" stroke-width="0.95" fill="none"/>
<path d="M612.30 199.40V323.50" stroke="#222" stroke-width="1.5" fill="none"/>
<rect x="55.5" y="352.5" width="243" height="142.5" rx="8" ry="8" fill="#f3f3f3" stroke="#bdbdbd" stroke-width="1"/>
<text x="134.00" y="372.74" font-size="10.45" text-anchor="middle" font-weight="normal" fill="#222" stroke="#222" stroke-width="0.2">Train</text>
<text x="229.00" y="372.74" font-size="10.45" text-anchor="middle" font-weight="normal" fill="#222" stroke="#222" stroke-width="0.2">Test</text>
<text x="118.00" y="400.14" font-size="10.45" text-anchor="middle" font-weight="normal" fill="#222" stroke="#222" stroke-width="0.2">Task A</text>
<text x="246.00" y="400.14" font-size="10.45" text-anchor="middle" font-weight="normal" fill="#222" stroke="#222" stroke-width="0.2">Task B</text>
<text x="136.00" y="482.74" font-size="10.45" text-anchor="middle" font-weight="normal" fill="#222" stroke="#222" stroke-width="0.2">Test</text>
<text x="230.80" y="482.74" font-size="10.45" text-anchor="middle" font-weight="normal" fill="#222" stroke="#222" stroke-width="0.2">Train</text>
<path d="M135.4 386.4A66 66 0 0 1 228.4 384" stroke="#111" stroke-width="1.1" fill="none"/>
<path d="M222.6 384.6L228.6 384.2L226.4 378.4" stroke="#111" stroke-width="1.1" fill="none"/>
<path d="M229 460.2A66 66 0 0 1 135.6 463" stroke="#111" stroke-width="1.1" fill="none"/>
<path d="M141.4 462.6L135.4 462.8L137.4 468.6" stroke="#111" stroke-width="1.1" fill="none"/>
<circle cx="99" cy="417" r="2.6" fill="#fafafa" stroke="#111" stroke-width="1.05"/>
<circle cx="104.4" cy="423" r="2.6" fill="#fafafa" stroke="#111" stroke-width="1.05"/>
<circle cx="113" cy="414.4" r="2.6" fill="#fafafa" stroke="#111" stroke-width="1.05"/>
<circle cx="116.6" cy="420" r="2.6" fill="#fafafa" stroke="#111" stroke-width="1.05"/>
<circle cx="125.6" cy="420.4" r="2.6" fill="#fafafa" stroke="#111" stroke-width="1.05"/>
<circle cx="113.4" cy="427.4" r="2.6" fill="#fafafa" stroke="#111" stroke-width="1.05"/>
<circle cx="122.6" cy="428" r="2.6" fill="#fafafa" stroke="#111" stroke-width="1.05"/>
<circle cx="114.6" cy="436" r="2.6" fill="#fafafa" stroke="#111" stroke-width="1.05"/>
<circle cx="245" cy="412.6" r="2.6" fill="#fafafa" stroke="#111" stroke-width="1.05"/>
<circle cx="259" cy="409.6" r="2.6" fill="#fafafa" stroke="#111" stroke-width="1.05"/>
<circle cx="249" cy="419.4" r="2.6" fill="#fafafa" stroke="#111" stroke-width="1.05"/>
<circle cx="258" cy="418" r="2.6" fill="#fafafa" stroke="#111" stroke-width="1.05"/>
<circle cx="269.4" cy="424.6" r="2.6" fill="#fafafa" stroke="#111" stroke-width="1.05"/>
<circle cx="248" cy="426.4" r="2.6" fill="#fafafa" stroke="#111" stroke-width="1.05"/>
<circle cx="261" cy="427.4" r="2.6" fill="#fafafa" stroke="#111" stroke-width="1.05"/>
<circle cx="259" cy="435" r="2.6" fill="#fafafa" stroke="#111" stroke-width="1.05"/>
<rect x="83.90" y="431.50" width="4.2" height="4.2" fill="#666" stroke="#333" stroke-width="0.8"/>
<rect x="92.30" y="429.90" width="4.2" height="4.2" fill="#666" stroke="#333" stroke-width="0.8"/>
<rect x="90.30" y="440.30" width="4.2" height="4.2" fill="#666" stroke="#333" stroke-width="0.8"/>
<rect x="101.30" y="441.90" width="4.2" height="4.2" fill="#666" stroke="#333" stroke-width="0.8"/>
<rect x="110.50" y="446.30" width="4.2" height="4.2" fill="#666" stroke="#333" stroke-width="0.8"/>
<rect x="90.30" y="449.50" width="4.2" height="4.2" fill="#666" stroke="#333" stroke-width="0.8"/>
<rect x="99.70" y="450.50" width="4.2" height="4.2" fill="#666" stroke="#333" stroke-width="0.8"/>
<rect x="107.30" y="452.90" width="4.2" height="4.2" fill="#666" stroke="#333" stroke-width="0.8"/>
<rect x="227.30" y="423.30" width="4.2" height="4.2" fill="#666" stroke="#333" stroke-width="0.8"/>
<rect x="233.50" y="428.30" width="4.2" height="4.2" fill="#666" stroke="#333" stroke-width="0.8"/>
<rect x="227.30" y="434.50" width="4.2" height="4.2" fill="#666" stroke="#333" stroke-width="0.8"/>
<rect x="241.50" y="433.90" width="4.2" height="4.2" fill="#666" stroke="#333" stroke-width="0.8"/>
<rect x="235.30" y="439.50" width="4.2" height="4.2" fill="#666" stroke="#333" stroke-width="0.8"/>
<rect x="231.90" y="445.30" width="4.2" height="4.2" fill="#666" stroke="#333" stroke-width="0.8"/>
<rect x="241.30" y="444.30" width="4.2" height="4.2" fill="#666" stroke="#333" stroke-width="0.8"/>
<rect x="249.50" y="441.30" width="4.2" height="4.2" fill="#666" stroke="#333" stroke-width="0.8"/>
<path d="M87 417.4L127 455M229 415.4L263.4 447.4" stroke="#111" stroke-width="1.1" fill="none"/>
<rect x="71.20" y="441.80" width="11.40" height="11.40" fill="#fbfbfb" stroke="#2a2a2a" stroke-width="1"/>
<rect x="75.29" y="443.61" width="1.4" height="1.4" fill="#222"/>
<rect x="77.91" y="443.61" width="1.4" height="1.4" fill="#222"/>
<rect x="77.91" y="446.46" width="1.4" height="1.4" fill="#222"/>
<rect x="77.91" y="449.31" width="1.4" height="1.4" fill="#222"/>
<rect x="129.20" y="434.40" width="11.40" height="11.40" fill="#fbfbfb" stroke="#2a2a2a" stroke-width="1"/>
<rect x="132.83" y="436.78" width="1.4" height="1.4" fill="#222"/>
<rect x="135.57" y="436.78" width="1.4" height="1.4" fill="#222"/>
<rect x="132.83" y="441.68" width="1.4" height="1.4" fill="#222"/>
<rect x="135.57" y="441.68" width="1.4" height="1.4" fill="#222"/>
<rect x="214.60" y="443.00" width="11.40" height="11.40" fill="#fbfbfb" stroke="#2a2a2a" stroke-width="1"/>
<rect x="218.69" y="444.81" width="1.4" height="1.4" fill="#222"/>
<rect x="221.31" y="444.81" width="1.4" height="1.4" fill="#222"/>
<rect x="221.31" y="447.66" width="1.4" height="1.4" fill="#222"/>
<rect x="221.31" y="450.51" width="1.4" height="1.4" fill="#222"/>
<rect x="271.80" y="429.40" width="11.40" height="11.40" fill="#fbfbfb" stroke="#2a2a2a" stroke-width="1"/>
<rect x="275.43" y="431.78" width="1.4" height="1.4" fill="#222"/>
<rect x="278.17" y="431.78" width="1.4" height="1.4" fill="#222"/>
<rect x="275.43" y="436.68" width="1.4" height="1.4" fill="#222"/>
<rect x="278.17" y="436.68" width="1.4" height="1.4" fill="#222"/>
<rect x="375.60" y="415.20" width="20.8" height="9.6" fill="#FBDBE5" stroke="#F54E80" stroke-width="1.2"/>
<text x="400.40" y="423.74" font-size="10.45" text-anchor="start" font-weight="normal" fill="#222" stroke="#222" stroke-width="0.2">TT-VV</text>
<rect x="375.60" y="435.80" width="20.8" height="9.6" fill="#D3EAE4" stroke="#27997D" stroke-width="1.2"/>
<text x="400.40" y="444.34" font-size="10.45" text-anchor="start" font-weight="normal" fill="#222" stroke="#222" stroke-width="0.2">TV-VT</text>
<rect x="19.60" y="588.20" width="20.8" height="9.6" fill="#E4D7FB" stroke="#7A33F0" stroke-width="1.2"/>
<text x="44.40" y="596.74" font-size="10.45" text-anchor="start" font-weight="normal" fill="#222" stroke="#222" stroke-width="0.2">TV-TT</text>
<rect x="19.60" y="608.60" width="20.8" height="9.6" fill="#E3E3E3" stroke="#8A8A8A" stroke-width="1.2"/>
<text x="44.40" y="617.14" font-size="10.45" text-anchor="start" font-weight="normal" fill="#222" stroke="#222" stroke-width="0.2">TV-VV</text>
<rect x="375.60" y="588.20" width="20.8" height="9.6" fill="#F5E3F0" stroke="#CE7ABC" stroke-width="1.2"/>
<text x="400.40" y="596.74" font-size="10.45" text-anchor="start" font-weight="normal" fill="#222" stroke="#222" stroke-width="0.2">VT-TT</text>
<rect x="375.60" y="608.60" width="20.8" height="9.6" fill="#E6EEC8" stroke="#90B100" stroke-width="1.2"/>
<text x="400.40" y="617.14" font-size="10.45" text-anchor="start" font-weight="normal" fill="#222" stroke="#222" stroke-width="0.2">VT-VV</text>
<text x="522.30" y="359.74" font-size="10.45" text-anchor="middle" font-weight="normal" fill="#222" stroke="#222" stroke-width="0.2">SPL</text>
<text transform="translate(464.40,430.90) rotate(-90)" font-size="10.45" text-anchor="middle" fill="#222" stroke="#222" stroke-width="0.2">Classification Accuracy (%)</text>
<text x="480.90" y="378.34" font-size="10.45" text-anchor="end" font-weight="normal" fill="#222" stroke="#222" stroke-width="0.2">40</text>
<text x="480.90" y="436.54" font-size="10.45" text-anchor="end" font-weight="normal" fill="#222" stroke="#222" stroke-width="0.2">20</text>
<text x="480.90" y="494.94" font-size="10.45" text-anchor="end" font-weight="normal" fill="#222" stroke="#222" stroke-width="0.2">0</text>
<rect x="490.20" y="413.00" width="26.60" height="17.85" fill="#FBDBE5"/>
<circle cx="504.70" cy="415.69" r="1.48" fill="#fff" fill-opacity="0.5" stroke="#F0527F" stroke-width="0.95"/>
<circle cx="502.07" cy="405.57" r="1.48" fill="#fff" fill-opacity="0.5" stroke="#F0527F" stroke-width="0.95"/>
<circle cx="497.13" cy="405.12" r="1.48" fill="#fff" fill-opacity="0.5" stroke="#F0527F" stroke-width="0.95"/>
<circle cx="498.42" cy="414.25" r="1.48" fill="#fff" fill-opacity="0.5" stroke="#F0527F" stroke-width="0.95"/>
<circle cx="499.03" cy="427.76" r="1.48" fill="#fff" fill-opacity="0.5" stroke="#F0527F" stroke-width="0.95"/>
<circle cx="509.05" cy="424.20" r="1.48" fill="#fff" fill-opacity="0.5" stroke="#F0527F" stroke-width="0.95"/>
<circle cx="509.95" cy="420.08" r="1.48" fill="#fff" fill-opacity="0.5" stroke="#F0527F" stroke-width="0.95"/>
<circle cx="501.27" cy="410.74" r="1.48" fill="#fff" fill-opacity="0.5" stroke="#F0527F" stroke-width="0.95"/>
<circle cx="501.48" cy="398.88" r="1.48" fill="#fff" fill-opacity="0.5" stroke="#F0527F" stroke-width="0.95"/>
<circle cx="504.02" cy="433.12" r="1.48" fill="#fff" fill-opacity="0.5" stroke="#F0527F" stroke-width="0.95"/>
<circle cx="503.72" cy="419.65" r="1.48" fill="#fff" fill-opacity="0.5" stroke="#F0527F" stroke-width="0.95"/>
<circle cx="500.26" cy="397.95" r="1.48" fill="#fff" fill-opacity="0.5" stroke="#F0527F" stroke-width="0.95"/>
<circle cx="501.54" cy="420.63" r="1.48" fill="#fff" fill-opacity="0.5" stroke="#F0527F" stroke-width="0.95"/>
<circle cx="501.38" cy="421.09" r="1.48" fill="#fff" fill-opacity="0.5" stroke="#F0527F" stroke-width="0.95"/>
<circle cx="500.74" cy="439.62" r="1.48" fill="#fff" fill-opacity="0.5" stroke="#F0527F" stroke-width="0.95"/>
<circle cx="507.55" cy="422.37" r="1.48" fill="#fff" fill-opacity="0.5" stroke="#F0527F" stroke-width="0.95"/>
<circle cx="510.11" cy="418.14" r="1.48" fill="#fff" fill-opacity="0.5" stroke="#F0527F" stroke-width="0.95"/>
<circle cx="505.88" cy="403.69" r="1.48" fill="#fff" fill-opacity="0.5" stroke="#F0527F" stroke-width="0.95"/>
<circle cx="497.18" cy="404.82" r="1.48" fill="#fff" fill-opacity="0.5" stroke="#F0527F" stroke-width="0.95"/>
<circle cx="503.95" cy="426.65" r="1.48" fill="#fff" fill-opacity="0.5" stroke="#F0527F" stroke-width="0.95"/>
<circle cx="505.16" cy="434.79" r="1.48" fill="#fff" fill-opacity="0.5" stroke="#F0527F" stroke-width="0.95"/>
<circle cx="502.92" cy="423.35" r="1.48" fill="#fff" fill-opacity="0.5" stroke="#F0527F" stroke-width="0.95"/>
<circle cx="503.08" cy="442.71" r="1.48" fill="#fff" fill-opacity="0.5" stroke="#F0527F" stroke-width="0.95"/>
<circle cx="505.23" cy="414.08" r="1.48" fill="#fff" fill-opacity="0.5" stroke="#F0527F" stroke-width="0.95"/>
<circle cx="506.73" cy="430.73" r="1.48" fill="#fff" fill-opacity="0.5" stroke="#F0527F" stroke-width="0.95"/>
<circle cx="504.88" cy="419.89" r="1.48" fill="#fff" fill-opacity="0.5" stroke="#F0527F" stroke-width="0.95"/>
<circle cx="499.73" cy="404.39" r="1.48" fill="#fff" fill-opacity="0.5" stroke="#F0527F" stroke-width="0.95"/>
<circle cx="506.01" cy="397.94" r="1.48" fill="#fff" fill-opacity="0.5" stroke="#F0527F" stroke-width="0.95"/>
<circle cx="501.08" cy="397.30" r="1.48" fill="#fff" fill-opacity="0.5" stroke="#F0527F" stroke-width="0.95"/>
<circle cx="501.79" cy="443.10" r="1.48" fill="#fff" fill-opacity="0.5" stroke="#F0527F" stroke-width="0.95"/>
<rect x="491.00" y="413.80" width="25.00" height="16.25" fill="none" stroke="#F54E80" stroke-width="1.6"/>
<path d="M503.30 397.00V413.00M503.30 430.85V443.40M497.30 397.00h12M497.30 443.40h12M491.60 422.60H515.40" stroke="#0d0d0d" stroke-width="1.1" fill="none"/>
<text x="504.50" y="394.60" font-size="13.5" text-anchor="middle" letter-spacing="1.65" fill="#1a1a1a">**</text>
<rect x="526.60" y="405.20" width="26.80" height="28.25" fill="#D3EAE4"/>
<circle cx="534.51" cy="429.82" r="1.48" fill="#fff" fill-opacity="0.5" stroke="#2A9C80" stroke-width="0.95"/>
<circle cx="543.99" cy="420.72" r="1.48" fill="#fff" fill-opacity="0.5" stroke="#2A9C80" stroke-width="0.95"/>
<circle cx="537.44" cy="443.77" r="1.48" fill="#fff" fill-opacity="0.5" stroke="#2A9C80" stroke-width="0.95"/>
<circle cx="544.01" cy="415.34" r="1.48" fill="#fff" fill-opacity="0.5" stroke="#2A9C80" stroke-width="0.95"/>
<circle cx="536.15" cy="435.25" r="1.48" fill="#fff" fill-opacity="0.5" stroke="#2A9C80" stroke-width="0.95"/>
<circle cx="539.47" cy="411.79" r="1.48" fill="#fff" fill-opacity="0.5" stroke="#2A9C80" stroke-width="0.95"/>
<circle cx="531.87" cy="412.62" r="1.48" fill="#fff" fill-opacity="0.5" stroke="#2A9C80" stroke-width="0.95"/>
<circle cx="540.18" cy="415.63" r="1.48" fill="#fff" fill-opacity="0.5" stroke="#2A9C80" stroke-width="0.95"/>
<circle cx="539.73" cy="441.70" r="1.48" fill="#fff" fill-opacity="0.5" stroke="#2A9C80" stroke-width="0.95"/>
<circle cx="533.89" cy="424.30" r="1.48" fill="#fff" fill-opacity="0.5" stroke="#2A9C80" stroke-width="0.95"/>
<circle cx="543.84" cy="442.77" r="1.48" fill="#fff" fill-opacity="0.5" stroke="#2A9C80" stroke-width="0.95"/>
<circle cx="538.69" cy="438.14" r="1.48" fill="#fff" fill-opacity="0.5" stroke="#2A9C80" stroke-width="0.95"/>
<circle cx="534.10" cy="396.50" r="1.48" fill="#fff" fill-opacity="0.5" stroke="#2A9C80" stroke-width="0.95"/>
<circle cx="535.94" cy="386.37" r="1.48" fill="#fff" fill-opacity="0.5" stroke="#2A9C80" stroke-width="0.95"/>
<circle cx="531.28" cy="406.69" r="1.48" fill="#fff" fill-opacity="0.5" stroke="#2A9C80" stroke-width="0.95"/>
<circle cx="538.35" cy="383.81" r="1.48" fill="#fff" fill-opacity="0.5" stroke="#2A9C80" stroke-width="0.95"/>
<circle cx="540.63" cy="402.21" r="1.48" fill="#fff" fill-opacity="0.5" stroke="#2A9C80" stroke-width="0.95"/>
<circle cx="538.19" cy="387.40" r="1.48" fill="#fff" fill-opacity="0.5" stroke="#2A9C80" stroke-width="0.95"/>
<circle cx="543.43" cy="408.67" r="1.48" fill="#fff" fill-opacity="0.5" stroke="#2A9C80" stroke-width="0.95"/>
<circle cx="539.46" cy="439.02" r="1.48" fill="#fff" fill-opacity="0.5" stroke="#2A9C80" stroke-width="0.95"/>
<circle cx="538.14" cy="383.83" r="1.48" fill="#fff" fill-opacity="0.5" stroke="#2A9C80" stroke-width="0.95"/>
<circle cx="535.93" cy="428.62" r="1.48" fill="#fff" fill-opacity="0.5" stroke="#2A9C80" stroke-width="0.95"/>
<circle cx="539.84" cy="404.03" r="1.48" fill="#fff" fill-opacity="0.5" stroke="#2A9C80" stroke-width="0.95"/>
<circle cx="533.08" cy="394.33" r="1.48" fill="#fff" fill-opacity="0.5" stroke="#2A9C80" stroke-width="0.95"/>
<circle cx="543.66" cy="432.84" r="1.48" fill="#fff" fill-opacity="0.5" stroke="#2A9C80" stroke-width="0.95"/>
<circle cx="538.38" cy="412.58" r="1.48" fill="#fff" fill-opacity="0.5" stroke="#2A9C80" stroke-width="0.95"/>
<circle cx="539.88" cy="399.77" r="1.48" fill="#fff" fill-opacity="0.5" stroke="#2A9C80" stroke-width="0.95"/>
<circle cx="536.78" cy="414.51" r="1.48" fill="#fff" fill-opacity="0.5" stroke="#2A9C80" stroke-width="0.95"/>
<circle cx="541.47" cy="381.70" r="1.48" fill="#fff" fill-opacity="0.5" stroke="#2A9C80" stroke-width="0.95"/>
<circle cx="542.51" cy="445.10" r="1.48" fill="#fff" fill-opacity="0.5" stroke="#2A9C80" stroke-width="0.95"/>
<rect x="527.40" y="406.00" width="25.20" height="26.65" fill="none" stroke="#27997D" stroke-width="1.6"/>
<path d="M539.60 381.40V405.20M539.60 433.45V445.40M533.60 381.40h12M533.60 445.40h12M528.00 420.40H552.00" stroke="#0d0d0d" stroke-width="1.1" fill="none"/>
<text x="540.80" y="379.00" font-size="13.5" text-anchor="middle" letter-spacing="1.65" fill="#1a1a1a">**</text>
<line x1="486.00" y1="432.70" x2="557.00" y2="432.70" stroke="#000" stroke-width="1.3" stroke-dasharray="1.35 1.35"/>
<path d="M486.00 374.40h2.4M486.00 403.50h2.4M486.00 432.70h2.4M486.00 461.80h2.4M486.00 491.00h2.4" stroke="#1f1f1f" stroke-width="0.95" fill="none"/>
<path d="M485.70 368.00V491.00" stroke="#222" stroke-width="1.5" fill="none"/>
<text x="650.20" y="359.74" font-size="10.45" text-anchor="middle" font-weight="normal" fill="#222" stroke="#222" stroke-width="0.2">IPS</text>
<text transform="translate(591.40,430.90) rotate(-90)" font-size="10.45" text-anchor="middle" fill="#222" stroke="#222" stroke-width="0.2">Classification Accuracy (%)</text>
<text x="607.90" y="378.34" font-size="10.45" text-anchor="end" font-weight="normal" fill="#222" stroke="#222" stroke-width="0.2">40</text>
<text x="607.90" y="436.54" font-size="10.45" text-anchor="end" font-weight="normal" fill="#222" stroke="#222" stroke-width="0.2">20</text>
<text x="607.90" y="494.94" font-size="10.45" text-anchor="end" font-weight="normal" fill="#222" stroke="#222" stroke-width="0.2">0</text>
<rect x="618.00" y="414.20" width="26.80" height="21.65" fill="#FBDBE5"/>
<circle cx="627.17" cy="435.03" r="1.48" fill="#fff" fill-opacity="0.5" stroke="#F0527F" stroke-width="0.95"/>
<circle cx="628.88" cy="416.04" r="1.48" fill="#fff" fill-opacity="0.5" stroke="#F0527F" stroke-width="0.95"/>
<circle cx="632.71" cy="440.49" r="1.48" fill="#fff" fill-opacity="0.5" stroke="#F0527F" stroke-width="0.95"/>
<circle cx="631.36" cy="424.01" r="1.48" fill="#fff" fill-opacity="0.5" stroke="#F0527F" stroke-width="0.95"/>
<circle cx="626.50" cy="410.27" r="1.48" fill="#fff" fill-opacity="0.5" stroke="#F0527F" stroke-width="0.95"/>
<circle cx="629.11" cy="414.63" r="1.48" fill="#fff" fill-opacity="0.5" stroke="#F0527F" stroke-width="0.95"/>
<circle cx="630.30" cy="433.73" r="1.48" fill="#fff" fill-opacity="0.5" stroke="#F0527F" stroke-width="0.95"/>
<circle cx="638.80" cy="396.99" r="1.48" fill="#fff" fill-opacity="0.5" stroke="#F0527F" stroke-width="0.95"/>
<circle cx="630.28" cy="405.39" r="1.48" fill="#fff" fill-opacity="0.5" stroke="#F0527F" stroke-width="0.95"/>
<circle cx="633.22" cy="421.53" r="1.48" fill="#fff" fill-opacity="0.5" stroke="#F0527F" stroke-width="0.95"/>
<circle cx="636.12" cy="428.27" r="1.48" fill="#fff" fill-opacity="0.5" stroke="#F0527F" stroke-width="0.95"/>
<circle cx="625.95" cy="417.28" r="1.48" fill="#fff" fill-opacity="0.5" stroke="#F0527F" stroke-width="0.95"/>
<circle cx="628.19" cy="446.67" r="1.48" fill="#fff" fill-opacity="0.5" stroke="#F0527F" stroke-width="0.95"/>
<circle cx="633.64" cy="448.67" r="1.48" fill="#fff" fill-opacity="0.5" stroke="#F0527F" stroke-width="0.95"/>
<circle cx="630.08" cy="442.18" r="1.48" fill="#fff" fill-opacity="0.5" stroke="#F0527F" stroke-width="0.95"/>
<circle cx="634.06" cy="438.84" r="1.48" fill="#fff" fill-opacity="0.5" stroke="#F0527F" stroke-width="0.95"/>
<circle cx="633.34" cy="407.01" r="1.48" fill="#fff" fill-opacity="0.5" stroke="#F0527F" stroke-width="0.95"/>
<circle cx="631.43" cy="454.53" r="1.48" fill="#fff" fill-opacity="0.5" stroke="#F0527F" stroke-width="0.95"/>
<circle cx="631.65" cy="394.48" r="1.48" fill="#fff" fill-opacity="0.5" stroke="#F0527F" stroke-width="0.95"/>
<circle cx="636.16" cy="415.75" r="1.48" fill="#fff" fill-opacity="0.5" stroke="#F0527F" stroke-width="0.95"/>
<circle cx="628.54" cy="429.38" r="1.48" fill="#fff" fill-opacity="0.5" stroke="#F0527F" stroke-width="0.95"/>
<circle cx="629.94" cy="414.46" r="1.48" fill="#fff" fill-opacity="0.5" stroke="#F0527F" stroke-width="0.95"/>
<circle cx="630.28" cy="423.37" r="1.48" fill="#fff" fill-opacity="0.5" stroke="#F0527F" stroke-width="0.95"/>
<circle cx="627.93" cy="455.60" r="1.48" fill="#fff" fill-opacity="0.5" stroke="#F0527F" stroke-width="0.95"/>
<circle cx="632.92" cy="417.80" r="1.48" fill="#fff" fill-opacity="0.5" stroke="#F0527F" stroke-width="0.95"/>
<circle cx="634.09" cy="440.32" r="1.48" fill="#fff" fill-opacity="0.5" stroke="#F0527F" stroke-width="0.95"/>
<circle cx="634.06" cy="414.49" r="1.48" fill="#fff" fill-opacity="0.5" stroke="#F0527F" stroke-width="0.95"/>
<circle cx="630.83" cy="417.88" r="1.48" fill="#fff" fill-opacity="0.5" stroke="#F0527F" stroke-width="0.95"/>
<circle cx="629.79" cy="391.30" r="1.48" fill="#fff" fill-opacity="0.5" stroke="#F0527F" stroke-width="0.95"/>
<circle cx="630.86" cy="457.70" r="1.48" fill="#fff" fill-opacity="0.5" stroke="#F0527F" stroke-width="0.95"/>
<rect x="618.80" y="415.00" width="25.20" height="20.05" fill="none" stroke="#F54E80" stroke-width="1.6"/>
<path d="M631.40 391.00V414.20M631.40 435.85V458.00M625.40 391.00h12M625.40 458.00h12M619.40 428.60H643.40" stroke="#0d0d0d" stroke-width="1.1" fill="none"/>
<text x="632.60" y="389.00" font-size="13.5" text-anchor="middle" letter-spacing="1.65" fill="#1a1a1a">*</text>
<rect x="654.20" y="409.20" width="27.20" height="21.25" fill="#D3EAE4"/>
<circle cx="668.79" cy="418.08" r="1.48" fill="#fff" fill-opacity="0.5" stroke="#2A9C80" stroke-width="0.95"/>
<circle cx="663.01" cy="411.22" r="1.48" fill="#fff" fill-opacity="0.5" stroke="#2A9C80" stroke-width="0.95"/>
<circle cx="666.71" cy="400.77" r="1.48" fill="#fff" fill-opacity="0.5" stroke="#2A9C80" stroke-width="0.95"/>
<circle cx="670.01" cy="442.85" r="1.48" fill="#fff" fill-opacity="0.5" stroke="#2A9C80" stroke-width="0.95"/>
<circle cx="661.06" cy="432.00" r="1.48" fill="#fff" fill-opacity="0.5" stroke="#2A9C80" stroke-width="0.95"/>
<circle cx="668.65" cy="398.40" r="1.48" fill="#fff" fill-opacity="0.5" stroke="#2A9C80" stroke-width="0.95"/>
<circle cx="674.25" cy="416.67" r="1.48" fill="#fff" fill-opacity="0.5" stroke="#2A9C80" stroke-width="0.95"/>
<circle cx="665.01" cy="406.31" r="1.48" fill="#fff" fill-opacity="0.5" stroke="#2A9C80" stroke-width="0.95"/>
<circle cx="674.26" cy="431.26" r="1.48" fill="#fff" fill-opacity="0.5" stroke="#2A9C80" stroke-width="0.95"/>
<circle cx="668.71" cy="430.25" r="1.48" fill="#fff" fill-opacity="0.5" stroke="#2A9C80" stroke-width="0.95"/>
<circle cx="667.49" cy="408.67" r="1.48" fill="#fff" fill-opacity="0.5" stroke="#2A9C80" stroke-width="0.95"/>
<circle cx="667.98" cy="402.26" r="1.48" fill="#fff" fill-opacity="0.5" stroke="#2A9C80" stroke-width="0.95"/>
<circle cx="663.70" cy="412.48" r="1.48" fill="#fff" fill-opacity="0.5" stroke="#2A9C80" stroke-width="0.95"/>
<circle cx="663.77" cy="418.82" r="1.48" fill="#fff" fill-opacity="0.5" stroke="#2A9C80" stroke-width="0.95"/>
<circle cx="670.09" cy="424.62" r="1.48" fill="#fff" fill-opacity="0.5" stroke="#2A9C80" stroke-width="0.95"/>
<circle cx="666.72" cy="417.57" r="1.48" fill="#fff" fill-opacity="0.5" stroke="#2A9C80" stroke-width="0.95"/>
<circle cx="667.53" cy="413.40" r="1.48" fill="#fff" fill-opacity="0.5" stroke="#2A9C80" stroke-width="0.95"/>
<circle cx="670.01" cy="404.36" r="1.48" fill="#fff" fill-opacity="0.5" stroke="#2A9C80" stroke-width="0.95"/>
<circle cx="666.75" cy="409.68" r="1.48" fill="#fff" fill-opacity="0.5" stroke="#2A9C80" stroke-width="0.95"/>
<circle cx="674.34" cy="411.18" r="1.48" fill="#fff" fill-opacity="0.5" stroke="#2A9C80" stroke-width="0.95"/>
<circle cx="669.97" cy="419.88" r="1.48" fill="#fff" fill-opacity="0.5" stroke="#2A9C80" stroke-width="0.95"/>
<circle cx="668.22" cy="395.64" r="1.48" fill="#fff" fill-opacity="0.5" stroke="#2A9C80" stroke-width="0.95"/>
<circle cx="660.48" cy="422.95" r="1.48" fill="#fff" fill-opacity="0.5" stroke="#2A9C80" stroke-width="0.95"/>
<circle cx="670.41" cy="428.51" r="1.48" fill="#fff" fill-opacity="0.5" stroke="#2A9C80" stroke-width="0.95"/>
<circle cx="665.19" cy="454.55" r="1.48" fill="#fff" fill-opacity="0.5" stroke="#2A9C80" stroke-width="0.95"/>
<circle cx="674.67" cy="420.83" r="1.48" fill="#fff" fill-opacity="0.5" stroke="#2A9C80" stroke-width="0.95"/>
<circle cx="671.85" cy="429.21" r="1.48" fill="#fff" fill-opacity="0.5" stroke="#2A9C80" stroke-width="0.95"/>
<circle cx="674.01" cy="422.48" r="1.48" fill="#fff" fill-opacity="0.5" stroke="#2A9C80" stroke-width="0.95"/>
<circle cx="669.70" cy="391.90" r="1.48" fill="#fff" fill-opacity="0.5" stroke="#2A9C80" stroke-width="0.95"/>
<circle cx="666.77" cy="454.70" r="1.48" fill="#fff" fill-opacity="0.5" stroke="#2A9C80" stroke-width="0.95"/>
<rect x="655.00" y="410.00" width="25.60" height="19.65" fill="none" stroke="#27997D" stroke-width="1.6"/>
<path d="M668.00 391.60V409.20M668.00 430.45V455.00M662.00 391.60h12M662.00 455.00h12M655.60 418.00H680.00" stroke="#0d0d0d" stroke-width="1.1" fill="none"/>
<text x="669.20" y="389.60" font-size="13.5" text-anchor="middle" letter-spacing="1.65" fill="#1a1a1a">**</text>
<line x1="613.00" y1="432.70" x2="685.00" y2="432.70" stroke="#000" stroke-width="1.3" stroke-dasharray="1.35 1.35"/>
<path d="M613.00 374.40h2.4M613.00 403.50h2.4M613.00 432.70h2.4M613.00 461.80h2.4M613.00 491.00h2.4" stroke="#1f1f1f" stroke-width="0.95" fill="none"/>
<path d="M612.70 368.00V491.00" stroke="#222" stroke-width="1.5" fill="none"/>
<text x="166.00" y="531.94" font-size="10.45" text-anchor="middle" font-weight="normal" fill="#222" stroke="#222" stroke-width="0.2">SPL</text>
<text transform="translate(108.10,602.90) rotate(-90)" font-size="10.45" text-anchor="middle" fill="#222" stroke="#222" stroke-width="0.2">Classification Accuracy (%)</text>
<text x="124.20" y="550.14" font-size="10.45" text-anchor="end" font-weight="normal" fill="#222" stroke="#222" stroke-width="0.2">40</text>
<text x="124.20" y="608.54" font-size="10.45" text-anchor="end" font-weight="normal" fill="#222" stroke="#222" stroke-width="0.2">20</text>
<text x="124.20" y="667.14" font-size="10.45" text-anchor="end" font-weight="normal" fill="#222" stroke="#222" stroke-width="0.2">0</text>
<rect x="134.20" y="579.20" width="26.80" height="19.25" fill="#E4D7FB"/>
<circle cx="143.57" cy="586.39" r="1.48" fill="#fff" fill-opacity="0.5" stroke="#7C38F0" stroke-width="0.95"/>
<circle cx="147.62" cy="598.57" r="1.48" fill="#fff" fill-opacity="0.5" stroke="#7C38F0" stroke-width="0.95"/>
<circle cx="148.07" cy="599.90" r="1.48" fill="#fff" fill-opacity="0.5" stroke="#7C38F0" stroke-width="0.95"/>
<circle cx="146.50" cy="579.99" r="1.48" fill="#fff" fill-opacity="0.5" stroke="#7C38F0" stroke-width="0.95"/>
<circle cx="149.80" cy="587.90" r="1.48" fill="#fff" fill-opacity="0.5" stroke="#7C38F0" stroke-width="0.95"/>
<circle cx="143.10" cy="565.03" r="1.48" fill="#fff" fill-opacity="0.5" stroke="#7C38F0" stroke-width="0.95"/>
<circle cx="148.41" cy="596.98" r="1.48" fill="#fff" fill-opacity="0.5" stroke="#7C38F0" stroke-width="0.95"/>
<circle cx="150.04" cy="586.59" r="1.48" fill="#fff" fill-opacity="0.5" stroke="#7C38F0" stroke-width="0.95"/>
<circle cx="149.24" cy="566.02" r="1.48" fill="#fff" fill-opacity="0.5" stroke="#7C38F0" stroke-width="0.95"/>
<circle cx="142.66" cy="587.32" r="1.48" fill="#fff" fill-opacity="0.5" stroke="#7C38F0" stroke-width="0.95"/>
<circle cx="145.47" cy="583.24" r="1.48" fill="#fff" fill-opacity="0.5" stroke="#7C38F0" stroke-width="0.95"/>
<circle cx="152.05" cy="602.03" r="1.48" fill="#fff" fill-opacity="0.5" stroke="#7C38F0" stroke-width="0.95"/>
<circle cx="146.50" cy="599.43" r="1.48" fill="#fff" fill-opacity="0.5" stroke="#7C38F0" stroke-width="0.95"/>
<circle cx="146.93" cy="579.65" r="1.48" fill="#fff" fill-opacity="0.5" stroke="#7C38F0" stroke-width="0.95"/>
<circle cx="148.47" cy="600.46" r="1.48" fill="#fff" fill-opacity="0.5" stroke="#7C38F0" stroke-width="0.95"/>
<circle cx="152.21" cy="571.36" r="1.48" fill="#fff" fill-opacity="0.5" stroke="#7C38F0" stroke-width="0.95"/>
<circle cx="142.57" cy="560.75" r="1.48" fill="#fff" fill-opacity="0.5" stroke="#7C38F0" stroke-width="0.95"/>
<circle cx="142.60" cy="579.54" r="1.48" fill="#fff" fill-opacity="0.5" stroke="#7C38F0" stroke-width="0.95"/>
<circle cx="146.89" cy="596.93" r="1.48" fill="#fff" fill-opacity="0.5" stroke="#7C38F0" stroke-width="0.95"/>
<circle cx="142.77" cy="591.50" r="1.48" fill="#fff" fill-opacity="0.5" stroke="#7C38F0" stroke-width="0.95"/>
<circle cx="148.58" cy="582.52" r="1.48" fill="#fff" fill-opacity="0.5" stroke="#7C38F0" stroke-width="0.95"/>
<circle cx="148.08" cy="599.42" r="1.48" fill="#fff" fill-opacity="0.5" stroke="#7C38F0" stroke-width="0.95"/>
<circle cx="145.33" cy="582.07" r="1.48" fill="#fff" fill-opacity="0.5" stroke="#7C38F0" stroke-width="0.95"/>
<circle cx="143.29" cy="616.36" r="1.48" fill="#fff" fill-opacity="0.5" stroke="#7C38F0" stroke-width="0.95"/>
<circle cx="144.95" cy="597.51" r="1.48" fill="#fff" fill-opacity="0.5" stroke="#7C38F0" stroke-width="0.95"/>
<circle cx="146.37" cy="580.03" r="1.48" fill="#fff" fill-opacity="0.5" stroke="#7C38F0" stroke-width="0.95"/>
<circle cx="150.39" cy="590.56" r="1.48" fill="#fff" fill-opacity="0.5" stroke="#7C38F0" stroke-width="0.95"/>
<circle cx="151.67" cy="567.06" r="1.48" fill="#fff" fill-opacity="0.5" stroke="#7C38F0" stroke-width="0.95"/>
<circle cx="148.10" cy="560.90" r="1.48" fill="#fff" fill-opacity="0.5" stroke="#7C38F0" stroke-width="0.95"/>
<circle cx="147.31" cy="616.10" r="1.48" fill="#fff" fill-opacity="0.5" stroke="#7C38F0" stroke-width="0.95"/>
<circle cx="147.60" cy="626.60" r="1.48" fill="#fff" fill-opacity="0.5" stroke="#7C38F0" stroke-width="0.95"/>
<rect x="135.00" y="580.00" width="25.20" height="17.65" fill="none" stroke="#7A33F0" stroke-width="1.6"/>
<path d="M147.60 560.60V579.20M147.60 598.45V616.40M141.60 560.60h12M141.60 616.40h12M135.60 591.00H159.60" stroke="#0d0d0d" stroke-width="1.1" fill="none"/>
<text x="148.80" y="558.20" font-size="13.5" text-anchor="middle" letter-spacing="1.65" fill="#1a1a1a">**</text>
<rect x="170.60" y="578.20" width="26.80" height="19.65" fill="#E3E3E3"/>
<circle cx="184.66" cy="597.58" r="1.48" fill="#fff" fill-opacity="0.5" stroke="#878787" stroke-width="0.95"/>
<circle cx="182.39" cy="573.22" r="1.48" fill="#fff" fill-opacity="0.5" stroke="#878787" stroke-width="0.95"/>
<circle cx="183.51" cy="582.39" r="1.48" fill="#fff" fill-opacity="0.5" stroke="#878787" stroke-width="0.95"/>
<circle cx="185.18" cy="579.95" r="1.48" fill="#fff" fill-opacity="0.5" stroke="#878787" stroke-width="0.95"/>
<circle cx="177.42" cy="572.85" r="1.48" fill="#fff" fill-opacity="0.5" stroke="#878787" stroke-width="0.95"/>
<circle cx="183.98" cy="614.93" r="1.48" fill="#fff" fill-opacity="0.5" stroke="#878787" stroke-width="0.95"/>
<circle cx="186.34" cy="583.08" r="1.48" fill="#fff" fill-opacity="0.5" stroke="#878787" stroke-width="0.95"/>
<circle cx="190.22" cy="582.74" r="1.48" fill="#fff" fill-opacity="0.5" stroke="#878787" stroke-width="0.95"/>
<circle cx="188.00" cy="585.53" r="1.48" fill="#fff" fill-opacity="0.5" stroke="#878787" stroke-width="0.95"/>
<circle cx="180.47" cy="591.32" r="1.48" fill="#fff" fill-opacity="0.5" stroke="#878787" stroke-width="0.95"/>
<circle cx="178.20" cy="603.33" r="1.48" fill="#fff" fill-opacity="0.5" stroke="#878787" stroke-width="0.95"/>
<circle cx="189.72" cy="601.50" r="1.48" fill="#fff" fill-opacity="0.5" stroke="#878787" stroke-width="0.95"/>
<circle cx="176.81" cy="610.68" r="1.48" fill="#fff" fill-opacity="0.5" stroke="#878787" stroke-width="0.95"/>
<circle cx="183.00" cy="558.57" r="1.48" fill="#fff" fill-opacity="0.5" stroke="#878787" stroke-width="0.95"/>
<circle cx="182.66" cy="597.19" r="1.48" fill="#fff" fill-opacity="0.5" stroke="#878787" stroke-width="0.95"/>
<circle cx="179.95" cy="567.34" r="1.48" fill="#fff" fill-opacity="0.5" stroke="#878787" stroke-width="0.95"/>
<circle cx="185.87" cy="567.19" r="1.48" fill="#fff" fill-opacity="0.5" stroke="#878787" stroke-width="0.95"/>
<circle cx="185.96" cy="564.59" r="1.48" fill="#fff" fill-opacity="0.5" stroke="#878787" stroke-width="0.95"/>
<circle cx="188.46" cy="585.73" r="1.48" fill="#fff" fill-opacity="0.5" stroke="#878787" stroke-width="0.95"/>
<circle cx="186.76" cy="571.14" r="1.48" fill="#fff" fill-opacity="0.5" stroke="#878787" stroke-width="0.95"/>
<circle cx="179.29" cy="608.31" r="1.48" fill="#fff" fill-opacity="0.5" stroke="#878787" stroke-width="0.95"/>
<circle cx="180.50" cy="566.52" r="1.48" fill="#fff" fill-opacity="0.5" stroke="#878787" stroke-width="0.95"/>
<circle cx="186.86" cy="579.86" r="1.48" fill="#fff" fill-opacity="0.5" stroke="#878787" stroke-width="0.95"/>
<circle cx="180.54" cy="578.46" r="1.48" fill="#fff" fill-opacity="0.5" stroke="#878787" stroke-width="0.95"/>
<circle cx="182.99" cy="589.19" r="1.48" fill="#fff" fill-opacity="0.5" stroke="#878787" stroke-width="0.95"/>
<circle cx="189.72" cy="565.36" r="1.48" fill="#fff" fill-opacity="0.5" stroke="#878787" stroke-width="0.95"/>
<circle cx="177.54" cy="596.70" r="1.48" fill="#fff" fill-opacity="0.5" stroke="#878787" stroke-width="0.95"/>
<circle cx="184.39" cy="616.65" r="1.48" fill="#fff" fill-opacity="0.5" stroke="#878787" stroke-width="0.95"/>
<circle cx="184.14" cy="553.70" r="1.48" fill="#fff" fill-opacity="0.5" stroke="#878787" stroke-width="0.95"/>
<circle cx="184.22" cy="618.70" r="1.48" fill="#fff" fill-opacity="0.5" stroke="#878787" stroke-width="0.95"/>
<circle cx="188.40" cy="628.60" r="1.48" fill="#fff" fill-opacity="0.5" stroke="#878787" stroke-width="0.95"/>
<rect x="171.40" y="579.00" width="25.20" height="18.05" fill="none" stroke="#8A8A8A" stroke-width="1.6"/>
<path d="M184.00 553.40V578.20M184.00 597.85V619.00M178.00 553.40h12M178.00 619.00h12M172.00 586.40H196.00" stroke="#0d0d0d" stroke-width="1.1" fill="none"/>
<text x="185.20" y="551.00" font-size="13.5" text-anchor="middle" letter-spacing="1.65" fill="#1a1a1a">**</text>
<line x1="129.60" y1="604.40" x2="201.00" y2="604.40" stroke="#000" stroke-width="1.3" stroke-dasharray="1.35 1.35"/>
<path d="M129.60 546.00h2.4M129.60 575.20h2.4M129.60 604.40h2.4M129.60 633.60h2.4M129.60 663.00h2.4" stroke="#1f1f1f" stroke-width="0.95" fill="none"/>
<path d="M129.30 540.00V663.00" stroke="#222" stroke-width="1.5" fill="none"/>
<text x="294.40" y="531.94" font-size="10.45" text-anchor="middle" font-weight="normal" fill="#222" stroke="#222" stroke-width="0.2">IPS</text>
<text transform="translate(235.70,602.90) rotate(-90)" font-size="10.45" text-anchor="middle" fill="#222" stroke="#222" stroke-width="0.2">Classification Accuracy (%)</text>
<text x="252.00" y="550.14" font-size="10.45" text-anchor="end" font-weight="normal" fill="#222" stroke="#222" stroke-width="0.2">40</text>
<text x="252.00" y="608.54" font-size="10.45" text-anchor="end" font-weight="normal" fill="#222" stroke="#222" stroke-width="0.2">20</text>
<text x="252.00" y="667.14" font-size="10.45" text-anchor="end" font-weight="normal" fill="#222" stroke="#222" stroke-width="0.2">0</text>
<rect x="262.00" y="585.60" width="26.80" height="21.25" fill="#E4D7FB"/>
<circle cx="276.09" cy="594.71" r="1.48" fill="#fff" fill-opacity="0.5" stroke="#7C38F0" stroke-width="0.95"/>
<circle cx="278.85" cy="581.94" r="1.48" fill="#fff" fill-opacity="0.5" stroke="#7C38F0" stroke-width="0.95"/>
<circle cx="275.58" cy="589.00" r="1.48" fill="#fff" fill-opacity="0.5" stroke="#7C38F0" stroke-width="0.95"/>
<circle cx="281.29" cy="590.91" r="1.48" fill="#fff" fill-opacity="0.5" stroke="#7C38F0" stroke-width="0.95"/>
<circle cx="279.40" cy="607.24" r="1.48" fill="#fff" fill-opacity="0.5" stroke="#7C38F0" stroke-width="0.95"/>
<circle cx="273.30" cy="593.71" r="1.48" fill="#fff" fill-opacity="0.5" stroke="#7C38F0" stroke-width="0.95"/>
<circle cx="277.16" cy="595.31" r="1.48" fill="#fff" fill-opacity="0.5" stroke="#7C38F0" stroke-width="0.95"/>
<circle cx="278.11" cy="588.43" r="1.48" fill="#fff" fill-opacity="0.5" stroke="#7C38F0" stroke-width="0.95"/>
<circle cx="276.43" cy="615.33" r="1.48" fill="#fff" fill-opacity="0.5" stroke="#7C38F0" stroke-width="0.95"/>
<circle cx="271.30" cy="566.08" r="1.48" fill="#fff" fill-opacity="0.5" stroke="#7C38F0" stroke-width="0.95"/>
<circle cx="274.17" cy="609.50" r="1.48" fill="#fff" fill-opacity="0.5" stroke="#7C38F0" stroke-width="0.95"/>
<circle cx="275.83" cy="609.60" r="1.48" fill="#fff" fill-opacity="0.5" stroke="#7C38F0" stroke-width="0.95"/>
<circle cx="276.15" cy="586.98" r="1.48" fill="#fff" fill-opacity="0.5" stroke="#7C38F0" stroke-width="0.95"/>
<circle cx="272.59" cy="608.22" r="1.48" fill="#fff" fill-opacity="0.5" stroke="#7C38F0" stroke-width="0.95"/>
<circle cx="275.37" cy="586.38" r="1.48" fill="#fff" fill-opacity="0.5" stroke="#7C38F0" stroke-width="0.95"/>
<circle cx="275.69" cy="612.61" r="1.48" fill="#fff" fill-opacity="0.5" stroke="#7C38F0" stroke-width="0.95"/>
<circle cx="275.99" cy="608.16" r="1.48" fill="#fff" fill-opacity="0.5" stroke="#7C38F0" stroke-width="0.95"/>
<circle cx="270.94" cy="598.38" r="1.48" fill="#fff" fill-opacity="0.5" stroke="#7C38F0" stroke-width="0.95"/>
<circle cx="271.80" cy="587.65" r="1.48" fill="#fff" fill-opacity="0.5" stroke="#7C38F0" stroke-width="0.95"/>
<circle cx="274.81" cy="615.14" r="1.48" fill="#fff" fill-opacity="0.5" stroke="#7C38F0" stroke-width="0.95"/>
<circle cx="273.20" cy="590.82" r="1.48" fill="#fff" fill-opacity="0.5" stroke="#7C38F0" stroke-width="0.95"/>
<circle cx="271.06" cy="589.39" r="1.48" fill="#fff" fill-opacity="0.5" stroke="#7C38F0" stroke-width="0.95"/>
<circle cx="276.78" cy="589.10" r="1.48" fill="#fff" fill-opacity="0.5" stroke="#7C38F0" stroke-width="0.95"/>
<circle cx="275.23" cy="613.65" r="1.48" fill="#fff" fill-opacity="0.5" stroke="#7C38F0" stroke-width="0.95"/>
<circle cx="267.75" cy="594.84" r="1.48" fill="#fff" fill-opacity="0.5" stroke="#7C38F0" stroke-width="0.95"/>
<circle cx="273.69" cy="592.65" r="1.48" fill="#fff" fill-opacity="0.5" stroke="#7C38F0" stroke-width="0.95"/>
<circle cx="276.14" cy="574.78" r="1.48" fill="#fff" fill-opacity="0.5" stroke="#7C38F0" stroke-width="0.95"/>
<circle cx="277.03" cy="604.08" r="1.48" fill="#fff" fill-opacity="0.5" stroke="#7C38F0" stroke-width="0.95"/>
<circle cx="273.85" cy="566.30" r="1.48" fill="#fff" fill-opacity="0.5" stroke="#7C38F0" stroke-width="0.95"/>
<circle cx="275.55" cy="615.30" r="1.48" fill="#fff" fill-opacity="0.5" stroke="#7C38F0" stroke-width="0.95"/>
<circle cx="271.40" cy="556.40" r="1.48" fill="#fff" fill-opacity="0.5" stroke="#7C38F0" stroke-width="0.95"/>
<rect x="262.80" y="586.40" width="25.20" height="19.65" fill="none" stroke="#7A33F0" stroke-width="1.6"/>
<path d="M275.40 566.00V585.60M275.40 606.85V615.60M269.40 566.00h12M269.40 615.60h12M263.40 592.60H287.40" stroke="#0d0d0d" stroke-width="1.1" fill="none"/>
<text x="276.60" y="553.60" font-size="13.5" text-anchor="middle" letter-spacing="1.65" fill="#1a1a1a">**</text>
<rect x="298.20" y="592.00" width="27.20" height="13.25" fill="#E3E3E3"/>
<circle cx="312.52" cy="611.36" r="1.48" fill="#fff" fill-opacity="0.5" stroke="#878787" stroke-width="0.95"/>
<circle cx="311.27" cy="589.14" r="1.48" fill="#fff" fill-opacity="0.5" stroke="#878787" stroke-width="0.95"/>
<circle cx="312.36" cy="597.57" r="1.48" fill="#fff" fill-opacity="0.5" stroke="#878787" stroke-width="0.95"/>
<circle cx="307.99" cy="598.49" r="1.48" fill="#fff" fill-opacity="0.5" stroke="#878787" stroke-width="0.95"/>
<circle cx="310.85" cy="604.83" r="1.48" fill="#fff" fill-opacity="0.5" stroke="#878787" stroke-width="0.95"/>
<circle cx="311.91" cy="586.42" r="1.48" fill="#fff" fill-opacity="0.5" stroke="#878787" stroke-width="0.95"/>
<circle cx="307.06" cy="586.92" r="1.48" fill="#fff" fill-opacity="0.5" stroke="#878787" stroke-width="0.95"/>
<circle cx="311.47" cy="605.15" r="1.48" fill="#fff" fill-opacity="0.5" stroke="#878787" stroke-width="0.95"/>
<circle cx="311.61" cy="597.78" r="1.48" fill="#fff" fill-opacity="0.5" stroke="#878787" stroke-width="0.95"/>
<circle cx="316.26" cy="601.62" r="1.48" fill="#fff" fill-opacity="0.5" stroke="#878787" stroke-width="0.95"/>
<circle cx="312.98" cy="597.61" r="1.48" fill="#fff" fill-opacity="0.5" stroke="#878787" stroke-width="0.95"/>
<circle cx="308.96" cy="607.06" r="1.48" fill="#fff" fill-opacity="0.5" stroke="#878787" stroke-width="0.95"/>
<circle cx="312.91" cy="601.10" r="1.48" fill="#fff" fill-opacity="0.5" stroke="#878787" stroke-width="0.95"/>
<circle cx="311.42" cy="602.99" r="1.48" fill="#fff" fill-opacity="0.5" stroke="#878787" stroke-width="0.95"/>
<circle cx="311.03" cy="616.56" r="1.48" fill="#fff" fill-opacity="0.5" stroke="#878787" stroke-width="0.95"/>
<circle cx="316.09" cy="613.69" r="1.48" fill="#fff" fill-opacity="0.5" stroke="#878787" stroke-width="0.95"/>
<circle cx="314.30" cy="591.51" r="1.48" fill="#fff" fill-opacity="0.5" stroke="#878787" stroke-width="0.95"/>
<circle cx="309.52" cy="616.78" r="1.48" fill="#fff" fill-opacity="0.5" stroke="#878787" stroke-width="0.95"/>
<circle cx="312.45" cy="593.87" r="1.48" fill="#fff" fill-opacity="0.5" stroke="#878787" stroke-width="0.95"/>
<circle cx="310.21" cy="607.51" r="1.48" fill="#fff" fill-opacity="0.5" stroke="#878787" stroke-width="0.95"/>
<circle cx="308.58" cy="587.49" r="1.48" fill="#fff" fill-opacity="0.5" stroke="#878787" stroke-width="0.95"/>
<circle cx="316.07" cy="592.00" r="1.48" fill="#fff" fill-opacity="0.5" stroke="#878787" stroke-width="0.95"/>
<circle cx="313.46" cy="601.85" r="1.48" fill="#fff" fill-opacity="0.5" stroke="#878787" stroke-width="0.95"/>
<circle cx="313.13" cy="597.61" r="1.48" fill="#fff" fill-opacity="0.5" stroke="#878787" stroke-width="0.95"/>
<circle cx="310.36" cy="595.52" r="1.48" fill="#fff" fill-opacity="0.5" stroke="#878787" stroke-width="0.95"/>
<circle cx="308.60" cy="600.31" r="1.48" fill="#fff" fill-opacity="0.5" stroke="#878787" stroke-width="0.95"/>
<circle cx="315.79" cy="603.59" r="1.48" fill="#fff" fill-opacity="0.5" stroke="#878787" stroke-width="0.95"/>
<circle cx="310.92" cy="592.93" r="1.48" fill="#fff" fill-opacity="0.5" stroke="#878787" stroke-width="0.95"/>
<circle cx="309.13" cy="586.70" r="1.48" fill="#fff" fill-opacity="0.5" stroke="#878787" stroke-width="0.95"/>
<circle cx="308.93" cy="616.70" r="1.48" fill="#fff" fill-opacity="0.5" stroke="#878787" stroke-width="0.95"/>
<circle cx="308.40" cy="548.60" r="1.48" fill="#fff" fill-opacity="0.5" stroke="#878787" stroke-width="0.95"/>
<circle cx="313.40" cy="560.00" r="1.48" fill="#fff" fill-opacity="0.5" stroke="#878787" stroke-width="0.95"/>
<circle cx="311.60" cy="573.00" r="1.48" fill="#fff" fill-opacity="0.5" stroke="#878787" stroke-width="0.95"/>
<rect x="299.00" y="592.80" width="25.60" height="11.65" fill="none" stroke="#8A8A8A" stroke-width="1.6"/>
<path d="M311.60 586.40V592.00M311.60 605.25V617.00M305.60 586.40h12M305.60 617.00h12M299.60 597.40H324.00" stroke="#0d0d0d" stroke-width="1.1" fill="none"/>
<text x="312.80" y="546.20" font-size="13.5" text-anchor="middle" letter-spacing="1.65" fill="#1a1a1a">**</text>
<line x1="257.40" y1="604.40" x2="328.00" y2="604.40" stroke="#000" stroke-width="1.3" stroke-dasharray="1.35 1.35"/>
<path d="M257.40 546.00h2.4M257.40 575.20h2.4M257.40 604.40h2.4M257.40 633.60h2.4M257.40 663.00h2.4" stroke="#1f1f1f" stroke-width="0.95" fill="none"/>
<path d="M257.10 540.00V663.00" stroke="#222" stroke-width="1.5" fill="none"/>
<text x="522.30" y="531.94" font-size="10.45" text-anchor="middle" font-weight="normal" fill="#222" stroke="#222" stroke-width="0.2">SPL</text>
<text transform="translate(464.40,602.90) rotate(-90)" font-size="10.45" text-anchor="middle" fill="#222" stroke="#222" stroke-width="0.2">Classification Accuracy (%)</text>
<text x="480.90" y="550.14" font-size="10.45" text-anchor="end" font-weight="normal" fill="#222" stroke="#222" stroke-width="0.2">40</text>
<text x="480.90" y="608.54" font-size="10.45" text-anchor="end" font-weight="normal" fill="#222" stroke="#222" stroke-width="0.2">20</text>
<text x="480.90" y="667.14" font-size="10.45" text-anchor="end" font-weight="normal" fill="#222" stroke="#222" stroke-width="0.2">0</text>
<rect x="490.20" y="584.00" width="26.80" height="22.45" fill="#F5E3F0"/>
<circle cx="508.59" cy="596.57" r="1.48" fill="#fff" fill-opacity="0.5" stroke="#CE7CBD" stroke-width="0.95"/>
<circle cx="504.18" cy="595.40" r="1.48" fill="#fff" fill-opacity="0.5" stroke="#CE7CBD" stroke-width="0.95"/>
<circle cx="504.59" cy="576.39" r="1.48" fill="#fff" fill-opacity="0.5" stroke="#CE7CBD" stroke-width="0.95"/>
<circle cx="501.52" cy="607.86" r="1.48" fill="#fff" fill-opacity="0.5" stroke="#CE7CBD" stroke-width="0.95"/>
<circle cx="505.24" cy="581.03" r="1.48" fill="#fff" fill-opacity="0.5" stroke="#CE7CBD" stroke-width="0.95"/>
<circle cx="509.64" cy="583.72" r="1.48" fill="#fff" fill-opacity="0.5" stroke="#CE7CBD" stroke-width="0.95"/>
<circle cx="499.67" cy="597.82" r="1.48" fill="#fff" fill-opacity="0.5" stroke="#CE7CBD" stroke-width="0.95"/>
<circle cx="497.83" cy="576.64" r="1.48" fill="#fff" fill-opacity="0.5" stroke="#CE7CBD" stroke-width="0.95"/>
<circle cx="496.98" cy="572.17" r="1.48" fill="#fff" fill-opacity="0.5" stroke="#CE7CBD" stroke-width="0.95"/>
<circle cx="507.13" cy="593.89" r="1.48" fill="#fff" fill-opacity="0.5" stroke="#CE7CBD" stroke-width="0.95"/>
<circle cx="503.40" cy="598.37" r="1.48" fill="#fff" fill-opacity="0.5" stroke="#CE7CBD" stroke-width="0.95"/>
<circle cx="501.24" cy="594.27" r="1.48" fill="#fff" fill-opacity="0.5" stroke="#CE7CBD" stroke-width="0.95"/>
<circle cx="507.09" cy="621.34" r="1.48" fill="#fff" fill-opacity="0.5" stroke="#CE7CBD" stroke-width="0.95"/>
<circle cx="500.66" cy="591.08" r="1.48" fill="#fff" fill-opacity="0.5" stroke="#CE7CBD" stroke-width="0.95"/>
<circle cx="506.09" cy="585.58" r="1.48" fill="#fff" fill-opacity="0.5" stroke="#CE7CBD" stroke-width="0.95"/>
<circle cx="502.37" cy="603.01" r="1.48" fill="#fff" fill-opacity="0.5" stroke="#CE7CBD" stroke-width="0.95"/>
<circle cx="495.18" cy="619.12" r="1.48" fill="#fff" fill-opacity="0.5" stroke="#CE7CBD" stroke-width="0.95"/>
<circle cx="503.14" cy="582.60" r="1.48" fill="#fff" fill-opacity="0.5" stroke="#CE7CBD" stroke-width="0.95"/>
<circle cx="498.15" cy="612.39" r="1.48" fill="#fff" fill-opacity="0.5" stroke="#CE7CBD" stroke-width="0.95"/>
<circle cx="501.14" cy="601.48" r="1.48" fill="#fff" fill-opacity="0.5" stroke="#CE7CBD" stroke-width="0.95"/>
<circle cx="509.62" cy="573.59" r="1.48" fill="#fff" fill-opacity="0.5" stroke="#CE7CBD" stroke-width="0.95"/>
<circle cx="500.87" cy="586.65" r="1.48" fill="#fff" fill-opacity="0.5" stroke="#CE7CBD" stroke-width="0.95"/>
<circle cx="506.48" cy="569.33" r="1.48" fill="#fff" fill-opacity="0.5" stroke="#CE7CBD" stroke-width="0.95"/>
<circle cx="502.94" cy="577.13" r="1.48" fill="#fff" fill-opacity="0.5" stroke="#CE7CBD" stroke-width="0.95"/>
<circle cx="499.25" cy="579.82" r="1.48" fill="#fff" fill-opacity="0.5" stroke="#CE7CBD" stroke-width="0.95"/>
<circle cx="502.70" cy="586.62" r="1.48" fill="#fff" fill-opacity="0.5" stroke="#CE7CBD" stroke-width="0.95"/>
<circle cx="509.85" cy="572.61" r="1.48" fill="#fff" fill-opacity="0.5" stroke="#CE7CBD" stroke-width="0.95"/>
<circle cx="507.82" cy="611.00" r="1.48" fill="#fff" fill-opacity="0.5" stroke="#CE7CBD" stroke-width="0.95"/>
<circle cx="501.66" cy="568.70" r="1.48" fill="#fff" fill-opacity="0.5" stroke="#CE7CBD" stroke-width="0.95"/>
<circle cx="502.77" cy="621.10" r="1.48" fill="#fff" fill-opacity="0.5" stroke="#CE7CBD" stroke-width="0.95"/>
<circle cx="499.00" cy="544.60" r="1.48" fill="#fff" fill-opacity="0.5" stroke="#CE7CBD" stroke-width="0.95"/>
<rect x="491.00" y="584.80" width="25.20" height="20.85" fill="none" stroke="#CE7ABC" stroke-width="1.6"/>
<path d="M503.40 568.40V584.00M503.40 606.45V621.40M497.40 568.40h12M497.40 621.40h12M491.60 594.60H515.60" stroke="#0d0d0d" stroke-width="1.1" fill="none"/>
<text x="504.60" y="546.00" font-size="13.5" text-anchor="middle" letter-spacing="1.65" fill="#1a1a1a">**</text>
<rect x="526.60" y="585.20" width="26.80" height="19.25" fill="#E6EEC8"/>
<circle cx="535.31" cy="618.54" r="1.48" fill="#fff" fill-opacity="0.5" stroke="#92B205" stroke-width="0.95"/>
<circle cx="537.61" cy="609.13" r="1.48" fill="#fff" fill-opacity="0.5" stroke="#92B205" stroke-width="0.95"/>
<circle cx="538.04" cy="591.53" r="1.48" fill="#fff" fill-opacity="0.5" stroke="#92B205" stroke-width="0.95"/>
<circle cx="540.74" cy="560.45" r="1.48" fill="#fff" fill-opacity="0.5" stroke="#92B205" stroke-width="0.95"/>
<circle cx="538.83" cy="596.77" r="1.48" fill="#fff" fill-opacity="0.5" stroke="#92B205" stroke-width="0.95"/>
<circle cx="539.86" cy="603.66" r="1.48" fill="#fff" fill-opacity="0.5" stroke="#92B205" stroke-width="0.95"/>
<circle cx="536.64" cy="601.88" r="1.48" fill="#fff" fill-opacity="0.5" stroke="#92B205" stroke-width="0.95"/>
<circle cx="543.37" cy="582.71" r="1.48" fill="#fff" fill-opacity="0.5" stroke="#92B205" stroke-width="0.95"/>
<circle cx="542.36" cy="588.85" r="1.48" fill="#fff" fill-opacity="0.5" stroke="#92B205" stroke-width="0.95"/>
<circle cx="545.82" cy="608.77" r="1.48" fill="#fff" fill-opacity="0.5" stroke="#92B205" stroke-width="0.95"/>
<circle cx="539.30" cy="617.70" r="1.48" fill="#fff" fill-opacity="0.5" stroke="#92B205" stroke-width="0.95"/>
<circle cx="546.18" cy="559.05" r="1.48" fill="#fff" fill-opacity="0.5" stroke="#92B205" stroke-width="0.95"/>
<circle cx="537.59" cy="598.76" r="1.48" fill="#fff" fill-opacity="0.5" stroke="#92B205" stroke-width="0.95"/>
<circle cx="538.01" cy="617.54" r="1.48" fill="#fff" fill-opacity="0.5" stroke="#92B205" stroke-width="0.95"/>
<circle cx="534.65" cy="577.59" r="1.48" fill="#fff" fill-opacity="0.5" stroke="#92B205" stroke-width="0.95"/>
<circle cx="543.88" cy="595.97" r="1.48" fill="#fff" fill-opacity="0.5" stroke="#92B205" stroke-width="0.95"/>
<circle cx="545.04" cy="590.59" r="1.48" fill="#fff" fill-opacity="0.5" stroke="#92B205" stroke-width="0.95"/>
<circle cx="537.74" cy="558.45" r="1.48" fill="#fff" fill-opacity="0.5" stroke="#92B205" stroke-width="0.95"/>
<circle cx="536.55" cy="586.36" r="1.48" fill="#fff" fill-opacity="0.5" stroke="#92B205" stroke-width="0.95"/>
<circle cx="535.86" cy="596.21" r="1.48" fill="#fff" fill-opacity="0.5" stroke="#92B205" stroke-width="0.95"/>
<circle cx="546.82" cy="602.35" r="1.48" fill="#fff" fill-opacity="0.5" stroke="#92B205" stroke-width="0.95"/>
<circle cx="540.75" cy="598.51" r="1.48" fill="#fff" fill-opacity="0.5" stroke="#92B205" stroke-width="0.95"/>
<circle cx="533.11" cy="558.95" r="1.48" fill="#fff" fill-opacity="0.5" stroke="#92B205" stroke-width="0.95"/>
<circle cx="546.18" cy="619.84" r="1.48" fill="#fff" fill-opacity="0.5" stroke="#92B205" stroke-width="0.95"/>
<circle cx="539.85" cy="575.30" r="1.48" fill="#fff" fill-opacity="0.5" stroke="#92B205" stroke-width="0.95"/>
<circle cx="548.20" cy="591.34" r="1.48" fill="#fff" fill-opacity="0.5" stroke="#92B205" stroke-width="0.95"/>
<circle cx="542.34" cy="572.85" r="1.48" fill="#fff" fill-opacity="0.5" stroke="#92B205" stroke-width="0.95"/>
<circle cx="541.96" cy="620.63" r="1.48" fill="#fff" fill-opacity="0.5" stroke="#92B205" stroke-width="0.95"/>
<circle cx="541.76" cy="558.30" r="1.48" fill="#fff" fill-opacity="0.5" stroke="#92B205" stroke-width="0.95"/>
<circle cx="542.49" cy="626.10" r="1.48" fill="#fff" fill-opacity="0.5" stroke="#92B205" stroke-width="0.95"/>
<rect x="527.40" y="586.00" width="25.20" height="17.65" fill="none" stroke="#90B100" stroke-width="1.6"/>
<path d="M540.00 558.00V585.20M540.00 604.45V626.40M534.00 558.00h12M534.00 626.40h12M528.00 595.40H552.00" stroke="#0d0d0d" stroke-width="1.1" fill="none"/>
<text x="541.20" y="555.60" font-size="13.5" text-anchor="middle" letter-spacing="1.65" fill="#1a1a1a">**</text>
<line x1="486.00" y1="604.40" x2="557.00" y2="604.40" stroke="#000" stroke-width="1.3" stroke-dasharray="1.35 1.35"/>
<path d="M486.00 546.00h2.4M486.00 575.20h2.4M486.00 604.40h2.4M486.00 633.60h2.4M486.00 663.00h2.4" stroke="#1f1f1f" stroke-width="0.95" fill="none"/>
<path d="M485.70 540.00V663.00" stroke="#222" stroke-width="1.5" fill="none"/>
<text x="650.20" y="531.94" font-size="10.45" text-anchor="middle" font-weight="normal" fill="#222" stroke="#222" stroke-width="0.2">IPS</text>
<text transform="translate(591.40,602.90) rotate(-90)" font-size="10.45" text-anchor="middle" fill="#222" stroke="#222" stroke-width="0.2">Classification Accuracy (%)</text>
<text x="607.90" y="550.14" font-size="10.45" text-anchor="end" font-weight="normal" fill="#222" stroke="#222" stroke-width="0.2">40</text>
<text x="607.90" y="608.54" font-size="10.45" text-anchor="end" font-weight="normal" fill="#222" stroke="#222" stroke-width="0.2">20</text>
<text x="607.90" y="667.14" font-size="10.45" text-anchor="end" font-weight="normal" fill="#222" stroke="#222" stroke-width="0.2">0</text>
<rect x="618.00" y="582.00" width="27.00" height="24.85" fill="#F5E3F0"/>
<circle cx="633.16" cy="598.34" r="1.48" fill="#fff" fill-opacity="0.5" stroke="#CE7CBD" stroke-width="0.95"/>
<circle cx="630.46" cy="549.95" r="1.48" fill="#fff" fill-opacity="0.5" stroke="#CE7CBD" stroke-width="0.95"/>
<circle cx="633.41" cy="602.14" r="1.48" fill="#fff" fill-opacity="0.5" stroke="#CE7CBD" stroke-width="0.95"/>
<circle cx="633.10" cy="595.87" r="1.48" fill="#fff" fill-opacity="0.5" stroke="#CE7CBD" stroke-width="0.95"/>
<circle cx="627.94" cy="563.86" r="1.48" fill="#fff" fill-opacity="0.5" stroke="#CE7CBD" stroke-width="0.95"/>
<circle cx="634.98" cy="607.65" r="1.48" fill="#fff" fill-opacity="0.5" stroke="#CE7CBD" stroke-width="0.95"/>
<circle cx="630.08" cy="571.86" r="1.48" fill="#fff" fill-opacity="0.5" stroke="#CE7CBD" stroke-width="0.95"/>
<circle cx="624.74" cy="602.93" r="1.48" fill="#fff" fill-opacity="0.5" stroke="#CE7CBD" stroke-width="0.95"/>
<circle cx="631.68" cy="579.25" r="1.48" fill="#fff" fill-opacity="0.5" stroke="#CE7CBD" stroke-width="0.95"/>
<circle cx="637.33" cy="581.58" r="1.48" fill="#fff" fill-opacity="0.5" stroke="#CE7CBD" stroke-width="0.95"/>
<circle cx="627.52" cy="563.31" r="1.48" fill="#fff" fill-opacity="0.5" stroke="#CE7CBD" stroke-width="0.95"/>
<circle cx="627.96" cy="597.44" r="1.48" fill="#fff" fill-opacity="0.5" stroke="#CE7CBD" stroke-width="0.95"/>
<circle cx="628.07" cy="583.28" r="1.48" fill="#fff" fill-opacity="0.5" stroke="#CE7CBD" stroke-width="0.95"/>
<circle cx="630.88" cy="612.28" r="1.48" fill="#fff" fill-opacity="0.5" stroke="#CE7CBD" stroke-width="0.95"/>
<circle cx="630.55" cy="593.85" r="1.48" fill="#fff" fill-opacity="0.5" stroke="#CE7CBD" stroke-width="0.95"/>
<circle cx="637.93" cy="573.13" r="1.48" fill="#fff" fill-opacity="0.5" stroke="#CE7CBD" stroke-width="0.95"/>
<circle cx="630.28" cy="615.84" r="1.48" fill="#fff" fill-opacity="0.5" stroke="#CE7CBD" stroke-width="0.95"/>
<circle cx="633.23" cy="599.15" r="1.48" fill="#fff" fill-opacity="0.5" stroke="#CE7CBD" stroke-width="0.95"/>
<circle cx="630.35" cy="557.21" r="1.48" fill="#fff" fill-opacity="0.5" stroke="#CE7CBD" stroke-width="0.95"/>
<circle cx="631.60" cy="602.13" r="1.48" fill="#fff" fill-opacity="0.5" stroke="#CE7CBD" stroke-width="0.95"/>
<circle cx="630.98" cy="576.25" r="1.48" fill="#fff" fill-opacity="0.5" stroke="#CE7CBD" stroke-width="0.95"/>
<circle cx="630.96" cy="587.52" r="1.48" fill="#fff" fill-opacity="0.5" stroke="#CE7CBD" stroke-width="0.95"/>
<circle cx="626.95" cy="601.18" r="1.48" fill="#fff" fill-opacity="0.5" stroke="#CE7CBD" stroke-width="0.95"/>
<circle cx="633.47" cy="586.42" r="1.48" fill="#fff" fill-opacity="0.5" stroke="#CE7CBD" stroke-width="0.95"/>
<circle cx="630.15" cy="558.56" r="1.48" fill="#fff" fill-opacity="0.5" stroke="#CE7CBD" stroke-width="0.95"/>
<circle cx="631.25" cy="583.29" r="1.48" fill="#fff" fill-opacity="0.5" stroke="#CE7CBD" stroke-width="0.95"/>
<circle cx="631.40" cy="558.73" r="1.48" fill="#fff" fill-opacity="0.5" stroke="#CE7CBD" stroke-width="0.95"/>
<circle cx="637.58" cy="613.37" r="1.48" fill="#fff" fill-opacity="0.5" stroke="#CE7CBD" stroke-width="0.95"/>
<circle cx="629.61" cy="549.90" r="1.48" fill="#fff" fill-opacity="0.5" stroke="#CE7CBD" stroke-width="0.95"/>
<circle cx="634.15" cy="620.10" r="1.48" fill="#fff" fill-opacity="0.5" stroke="#CE7CBD" stroke-width="0.95"/>
<rect x="618.80" y="582.80" width="25.40" height="23.25" fill="none" stroke="#CE7ABC" stroke-width="1.6"/>
<path d="M631.60 549.60V582.00M631.60 606.85V620.40M625.60 549.60h12M625.60 620.40h12M619.40 593.40H643.60" stroke="#0d0d0d" stroke-width="1.1" fill="none"/>
<text x="632.80" y="547.60" font-size="13.5" text-anchor="middle" letter-spacing="1.65" fill="#1a1a1a">**</text>
<rect x="654.20" y="586.60" width="27.20" height="17.65" fill="#E6EEC8"/>
<circle cx="670.47" cy="589.94" r="1.48" fill="#fff" fill-opacity="0.5" stroke="#92B205" stroke-width="0.95"/>
<circle cx="665.73" cy="604.38" r="1.48" fill="#fff" fill-opacity="0.5" stroke="#92B205" stroke-width="0.95"/>
<circle cx="665.41" cy="592.63" r="1.48" fill="#fff" fill-opacity="0.5" stroke="#92B205" stroke-width="0.95"/>
<circle cx="669.08" cy="567.21" r="1.48" fill="#fff" fill-opacity="0.5" stroke="#92B205" stroke-width="0.95"/>
<circle cx="668.03" cy="623.97" r="1.48" fill="#fff" fill-opacity="0.5" stroke="#92B205" stroke-width="0.95"/>
<circle cx="670.96" cy="572.91" r="1.48" fill="#fff" fill-opacity="0.5" stroke="#92B205" stroke-width="0.95"/>
<circle cx="665.26" cy="616.88" r="1.48" fill="#fff" fill-opacity="0.5" stroke="#92B205" stroke-width="0.95"/>
<circle cx="669.16" cy="595.03" r="1.48" fill="#fff" fill-opacity="0.5" stroke="#92B205" stroke-width="0.95"/>
<circle cx="672.59" cy="603.31" r="1.48" fill="#fff" fill-opacity="0.5" stroke="#92B205" stroke-width="0.95"/>
<circle cx="672.22" cy="572.28" r="1.48" fill="#fff" fill-opacity="0.5" stroke="#92B205" stroke-width="0.95"/>
<circle cx="668.13" cy="603.26" r="1.48" fill="#fff" fill-opacity="0.5" stroke="#92B205" stroke-width="0.95"/>
<circle cx="665.06" cy="599.04" r="1.48" fill="#fff" fill-opacity="0.5" stroke="#92B205" stroke-width="0.95"/>
<circle cx="669.74" cy="591.10" r="1.48" fill="#fff" fill-opacity="0.5" stroke="#92B205" stroke-width="0.95"/>
<circle cx="672.45" cy="588.93" r="1.48" fill="#fff" fill-opacity="0.5" stroke="#92B205" stroke-width="0.95"/>
<circle cx="667.43" cy="590.86" r="1.48" fill="#fff" fill-opacity="0.5" stroke="#92B205" stroke-width="0.95"/>
<circle cx="669.14" cy="615.31" r="1.48" fill="#fff" fill-opacity="0.5" stroke="#92B205" stroke-width="0.95"/>
<circle cx="670.62" cy="623.25" r="1.48" fill="#fff" fill-opacity="0.5" stroke="#92B205" stroke-width="0.95"/>
<circle cx="672.72" cy="596.99" r="1.48" fill="#fff" fill-opacity="0.5" stroke="#92B205" stroke-width="0.95"/>
<circle cx="666.59" cy="615.71" r="1.48" fill="#fff" fill-opacity="0.5" stroke="#92B205" stroke-width="0.95"/>
<circle cx="668.56" cy="599.59" r="1.48" fill="#fff" fill-opacity="0.5" stroke="#92B205" stroke-width="0.95"/>
<circle cx="672.77" cy="580.74" r="1.48" fill="#fff" fill-opacity="0.5" stroke="#92B205" stroke-width="0.95"/>
<circle cx="672.90" cy="621.98" r="1.48" fill="#fff" fill-opacity="0.5" stroke="#92B205" stroke-width="0.95"/>
<circle cx="666.90" cy="600.53" r="1.48" fill="#fff" fill-opacity="0.5" stroke="#92B205" stroke-width="0.95"/>
<circle cx="666.22" cy="573.53" r="1.48" fill="#fff" fill-opacity="0.5" stroke="#92B205" stroke-width="0.95"/>
<circle cx="668.36" cy="617.86" r="1.48" fill="#fff" fill-opacity="0.5" stroke="#92B205" stroke-width="0.95"/>
<circle cx="668.30" cy="588.80" r="1.48" fill="#fff" fill-opacity="0.5" stroke="#92B205" stroke-width="0.95"/>
<circle cx="665.46" cy="593.56" r="1.48" fill="#fff" fill-opacity="0.5" stroke="#92B205" stroke-width="0.95"/>
<circle cx="669.76" cy="592.31" r="1.48" fill="#fff" fill-opacity="0.5" stroke="#92B205" stroke-width="0.95"/>
<circle cx="665.85" cy="566.70" r="1.48" fill="#fff" fill-opacity="0.5" stroke="#92B205" stroke-width="0.95"/>
<circle cx="665.54" cy="623.70" r="1.48" fill="#fff" fill-opacity="0.5" stroke="#92B205" stroke-width="0.95"/>
<rect x="655.00" y="587.40" width="25.60" height="16.05" fill="none" stroke="#90B100" stroke-width="1.6"/>
<path d="M668.00 566.40V586.60M668.00 604.25V624.00M662.00 566.40h12M662.00 624.00h12M655.60 597.40H680.00" stroke="#0d0d0d" stroke-width="1.1" fill="none"/>
<text x="669.20" y="564.20" font-size="13.5" text-anchor="middle" letter-spacing="1.65" fill="#1a1a1a">**</text>
<line x1="613.00" y1="604.40" x2="685.00" y2="604.40" stroke="#000" stroke-width="1.3" stroke-dasharray="1.35 1.35"/>
<path d="M613.00 546.00h2.4M613.00 575.20h2.4M613.00 604.40h2.4M613.00 633.60h2.4M613.00 663.00h2.4" stroke="#1f1f1f" stroke-width="0.95" fill="none"/>
<path d="M612.70 540.00V663.00" stroke="#222" stroke-width="1.5" fill="none"/>
</svg>
</body>
</html>
